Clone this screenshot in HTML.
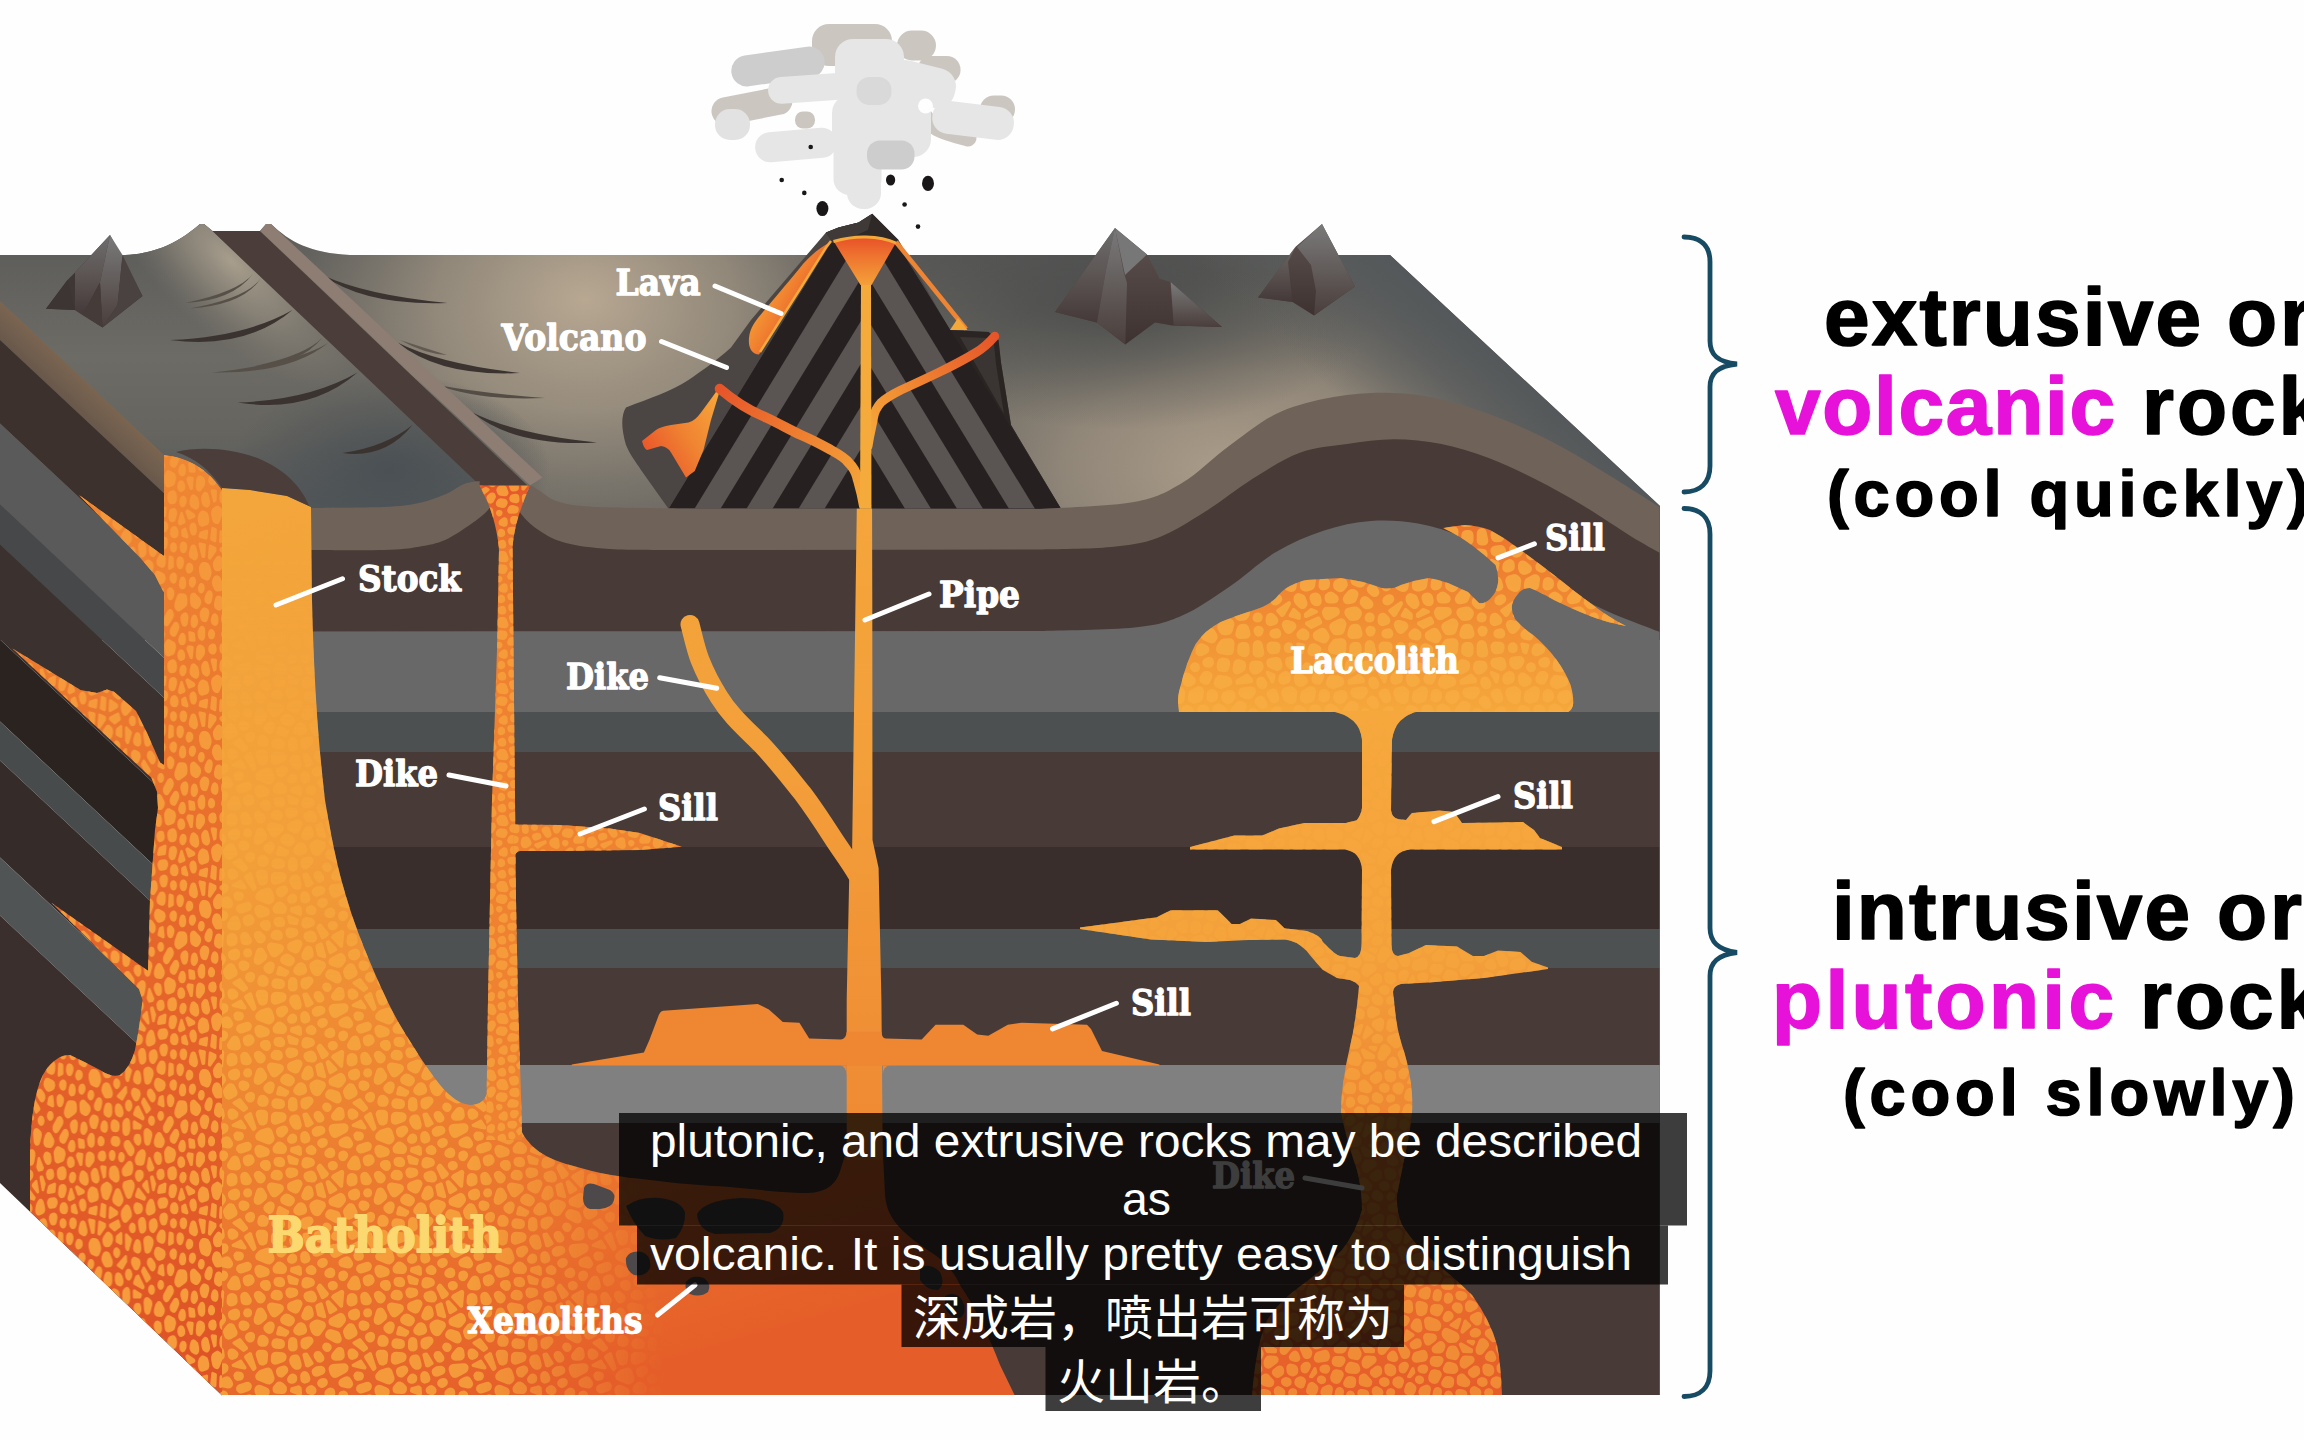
<!DOCTYPE html>
<html lang="en">
<head>
<meta charset="utf-8">
<title>Igneous rock structures</title>
<style>
html,body{margin:0;padding:0;background:#fefefe;}
body{width:2304px;height:1440px;overflow:hidden;position:relative;}
svg{position:absolute;left:0;top:0;display:block;}
.lab{font-family:"DejaVu Serif","Liberation Serif",serif;font-weight:bold;fill:#fff;font-size:34.5px;stroke:#fff;stroke-width:1.3px;stroke-linejoin:round;}
.big{font-family:"Liberation Sans",sans-serif;font-weight:bold;fill:#000;}
.sub{font-family:"Liberation Sans","Noto Sans CJK SC",sans-serif;fill:#fff;}
.ld{stroke:#fff;stroke-width:5;stroke-linecap:round;fill:none;}
</style>
</head>
<body>
<svg width="2304" height="1440" viewBox="0 0 2304 1440">
<defs>
<linearGradient id="gTopBase" x1="0" y1="254" x2="0" y2="520" gradientUnits="userSpaceOnUse">
<stop offset="0" stop-color="#595957"/><stop offset="0.55" stop-color="#6f6b64"/><stop offset="1" stop-color="#6a6761"/>
</linearGradient>
<radialGradient id="gHi1" cx="585" cy="300" r="330" gradientUnits="userSpaceOnUse" gradientTransform="translate(585 300) scale(1 0.75) translate(-585 -300)">
<stop offset="0" stop-color="#b8a892" stop-opacity="1"/><stop offset="0.45" stop-color="#a89b88" stop-opacity="0.7"/><stop offset="1" stop-color="#8a8478" stop-opacity="0"/>
</radialGradient>
<radialGradient id="gHi2" cx="1230" cy="470" r="330" gradientUnits="userSpaceOnUse" gradientTransform="translate(1230 470) scale(1 0.6) translate(-1230 -470)">
<stop offset="0" stop-color="#ac9d8a" stop-opacity="1"/><stop offset="0.5" stop-color="#a09382" stop-opacity="0.7"/><stop offset="1" stop-color="#8a8478" stop-opacity="0"/>
</radialGradient>
<radialGradient id="gHi3" cx="225" cy="275" r="120" gradientUnits="userSpaceOnUse">
<stop offset="0" stop-color="#a59b8a" stop-opacity="0.95"/><stop offset="0.5" stop-color="#968d7d" stop-opacity="0.55"/><stop offset="1" stop-color="#8a8478" stop-opacity="0"/>
</radialGradient>
<radialGradient id="gDk1" cx="390" cy="470" r="160" gradientUnits="userSpaceOnUse" gradientTransform="translate(390 470) scale(1 0.6) translate(-390 -470)">
<stop offset="0" stop-color="#4a5054" stop-opacity="1"/><stop offset="1" stop-color="#4a5054" stop-opacity="0"/>
</radialGradient>
<radialGradient id="gDk2" cx="1120" cy="300" r="260" gradientUnits="userSpaceOnUse" gradientTransform="translate(1120 300) scale(1 0.5) translate(-1120 -300)">
<stop offset="0" stop-color="#4c4e4d" stop-opacity="1"/><stop offset="1" stop-color="#4c4e4d" stop-opacity="0"/>
</radialGradient>
<linearGradient id="gRightEdge" x1="1525" y1="380" x2="1430" y2="482" gradientUnits="userSpaceOnUse">
<stop offset="0" stop-color="#54585a" stop-opacity="1"/><stop offset="0.35" stop-color="#585b5c" stop-opacity="0.8"/><stop offset="1" stop-color="#5f605e" stop-opacity="0"/>
</linearGradient>
<linearGradient id="gStrip" x1="0" y1="0" x2="1" y2="0">
<stop offset="0" stop-color="#7d6e65"/><stop offset="1" stop-color="#9a8a7f"/>
</linearGradient>
<linearGradient id="gMtn" x1="0" y1="0" x2="0" y2="1">
<stop offset="0" stop-color="#7a7a7a"/><stop offset="1" stop-color="#4a3e3b"/>
</linearGradient>
<linearGradient id="gMtnL" x1="0" y1="0" x2="0" y2="1">
<stop offset="0" stop-color="#6e6e6e"/><stop offset="0.55" stop-color="#5a5250"/><stop offset="1" stop-color="#45393a"/>
</linearGradient>
<linearGradient id="gMtnD" x1="0" y1="0" x2="0" y2="1">
<stop offset="0" stop-color="#5e5350"/><stop offset="1" stop-color="#3d3230"/>
</linearGradient>
<linearGradient id="gFunnel" x1="0" y1="238" x2="0" y2="290" gradientUnits="userSpaceOnUse">
<stop offset="0" stop-color="#e8522a"/><stop offset="0.35" stop-color="#ee742f"/><stop offset="1" stop-color="#f5a83a"/>
</linearGradient>
<linearGradient id="gLava1" x1="750" y1="300" x2="800" y2="330" gradientUnits="userSpaceOnUse">
<stop offset="0" stop-color="#f7a838"/><stop offset="0.5" stop-color="#f08030"/><stop offset="1" stop-color="#e8532a"/>
</linearGradient>
<linearGradient id="gLava2" x1="642" y1="450" x2="720" y2="400" gradientUnits="userSpaceOnUse">
<stop offset="0" stop-color="#e9552a"/><stop offset="0.5" stop-color="#f08432"/><stop offset="1" stop-color="#f7a53a"/>
</linearGradient>
<linearGradient id="gBrL" x1="720" y1="388" x2="861" y2="500" gradientUnits="userSpaceOnUse">
<stop offset="0" stop-color="#e6552a"/><stop offset="0.5" stop-color="#ee7e30"/><stop offset="1" stop-color="#f5a73a"/>
</linearGradient>
<linearGradient id="gBrR" x1="995" y1="336" x2="872" y2="437" gradientUnits="userSpaceOnUse">
<stop offset="0" stop-color="#e6552a"/><stop offset="0.5" stop-color="#ee7e30"/><stop offset="1" stop-color="#f5a73a"/>
</linearGradient>
<linearGradient id="gBath" x1="300" y1="500" x2="560" y2="1395" gradientUnits="userSpaceOnUse">
<stop offset="0" stop-color="#f3a63b"/><stop offset="0.35" stop-color="#f29f39"/><stop offset="0.58" stop-color="#ee8832"/><stop offset="0.8" stop-color="#ea722d"/><stop offset="1" stop-color="#e55e29"/>
</linearGradient>
<linearGradient id="gBathTex" x1="0" y1="560" x2="0" y2="1000" gradientUnits="userSpaceOnUse">
<stop offset="0" stop-color="#fff" stop-opacity="0.15"/><stop offset="1" stop-color="#fff" stop-opacity="1"/>
</linearGradient>
<linearGradient id="gBathTexH" x1="470" y1="0" x2="665" y2="0" gradientUnits="userSpaceOnUse">
<stop offset="0" stop-color="#fff" stop-opacity="1"/><stop offset="1" stop-color="#fff" stop-opacity="0"/>
</linearGradient>
<mask id="mBathTex" maskUnits="userSpaceOnUse" x="0" y="0" width="2304" height="1440">
<rect x="0" y="0" width="2304" height="1440" fill="url(#gBathTex)"/>
<rect x="470" y="1100" width="640" height="300" fill="#000"/>
<rect x="470" y="1100" width="640" height="300" fill="url(#gBathTexH)"/>
</mask>
<linearGradient id="gPipe" x1="0" y1="285" x2="0" y2="1200" gradientUnits="userSpaceOnUse">
<stop offset="0" stop-color="#f5aa3b"/><stop offset="0.5" stop-color="#f3a03a"/><stop offset="1" stop-color="#ee8632"/>
</linearGradient>
<linearGradient id="gLacc" x1="0" y1="520" x2="0" y2="712" gradientUnits="userSpaceOnUse">
<stop offset="0" stop-color="#ec732d"/><stop offset="0.5" stop-color="#f08c33"/><stop offset="1" stop-color="#f5a83b"/>
</linearGradient>
<linearGradient id="gTrunk" x1="0" y1="712" x2="0" y2="1395" gradientUnits="userSpaceOnUse">
<stop offset="0" stop-color="#f5a83b"/><stop offset="0.35" stop-color="#f3a03a"/><stop offset="0.6" stop-color="#ee8632"/><stop offset="1" stop-color="#e65c29"/>
</linearGradient>
<linearGradient id="gLeftShade" x1="0" y1="0" x2="222" y2="0" gradientUnits="userSpaceOnUse">
<stop offset="0" stop-color="#000" stop-opacity="0.0"/><stop offset="1" stop-color="#000" stop-opacity="0"/>
</linearGradient>
<linearGradient id="gLeftBath" x1="0" y1="450" x2="0" y2="1350" gradientUnits="userSpaceOnUse">
<stop offset="0" stop-color="#eb7c2d"/><stop offset="0.45" stop-color="#e76a2b"/><stop offset="1" stop-color="#df5426"/>
</linearGradient>
<clipPath id="cFront"><path d="M222,488 L250,490 L287,496 L311,507 L311,508 C323.2,507.8 366.0,507.8 384,507 C402.0,506.2 408.8,505.1 419,503 C429.2,500.9 437.5,497.8 445,494.6 C452.5,491.4 458.2,486.3 464,484 C469.8,481.7 477.0,481.5 479.6,481 L479.6,485.6 L530,485.6 L532,486 C533.3,486.8 535.7,488.4 540,491 C544.3,493.6 549.0,499.0 557.8,501.6 C566.5,504.2 572.1,505.7 592.5,506.8 C612.9,507.9 665.4,508.2 680,508.5 L1040,509 L1040,509 C1055.7,507.8 1110.3,506.3 1134,502 C1157.7,497.7 1166.2,492.3 1182,483 C1197.8,473.7 1213.3,457.5 1229,446 C1244.7,434.5 1260.3,421.8 1276,414 C1291.7,406.2 1307.2,402.5 1323,399 C1338.8,395.5 1355.2,393.7 1371,393 C1386.8,392.3 1402.3,392.8 1418,395 C1433.7,397.2 1449.3,401.3 1465,406 C1480.7,410.7 1496.2,416.3 1512,423 C1527.8,429.7 1544.2,437.5 1560,446 C1575.8,454.5 1590.4,463.8 1607,474 C1623.6,484.2 1650.8,501.5 1659.5,507 L1659.5,1395 L222,1395 Z"/></clipPath>
<clipPath id="cLeft"><path d="M0,301 L164,455 Q200,458 222,490 L222,1395.5 L0,1183 Z"/></clipPath>
<linearGradient id="gLB" x1="0" y1="301" x2="0" y2="340" gradientUnits="userSpaceOnUse"><stop offset="0" stop-color="#7b6551"/><stop offset="1" stop-color="#68584b"/></linearGradient>
<clipPath id="cVolc"><path d="M668.5,508.75 L831,242.5 L896,242.5 L1061,508.75 Z"/></clipPath>
<linearGradient id="gLBlock" x1="0" y1="240" x2="0" y2="500" gradientUnits="userSpaceOnUse">
<stop offset="0" stop-color="#5c5c5a"/><stop offset="0.45" stop-color="#6d6b65"/><stop offset="0.75" stop-color="#65645f"/><stop offset="1" stop-color="#54585a"/>
</linearGradient>
<radialGradient id="gLBhi" cx="232" cy="262" r="130" gradientUnits="userSpaceOnUse" gradientTransform="translate(232 262) rotate(43) scale(1.3 0.55) translate(-232 -262)">
<stop offset="0" stop-color="#a89e8d" stop-opacity="1"/><stop offset="0.5" stop-color="#958d7f" stop-opacity="0.6"/><stop offset="1" stop-color="#807a70" stop-opacity="0"/>
</radialGradient>
<linearGradient id="gFdike" x1="0" y1="485" x2="0" y2="560" gradientUnits="userSpaceOnUse">
<stop offset="0" stop-color="#e5552a"/><stop offset="1" stop-color="#ee8231"/>
</linearGradient>
<linearGradient id="gColSoft" x1="0" y1="450" x2="0" y2="900" gradientUnits="userSpaceOnUse">
<stop offset="0" stop-color="#f3923a" stop-opacity="0.5"/><stop offset="0.6" stop-color="#f3923a" stop-opacity="0.2"/><stop offset="1" stop-color="#f3923a" stop-opacity="0"/>
</linearGradient>
<pattern id="pCellB" width="130" height="130" patternUnits="userSpaceOnUse" patternTransform="matrix(0.85 0 0 1.3 0 0)"><path d="M-8.4,0.2 -10.5,1.7 -11.6,3.6 -11.6,5.8 -10.3,10.0 -9.3,11.6 -7.7,12.5 -5.8,13.1 -4.1,13.2 -2.4,12.5 -1.3,11.2 1.6,5.9 2.0,3.9 1.5,2.0 -0.0,0.6 -2.4,-0.6 -3.9,-1.1 -5.6,-0.8ZM-0.8,37.9 -2.4,37.4 -4.1,37.6 -5.5,38.4 -8.5,41.3 -9.6,43.3 -9.3,45.6 -8.8,47.0 -7.4,48.7 -5.4,49.4 -1.4,49.3 1.7,46.9 3.0,44.3 3.1,42.7 2.6,40.6 1.2,39.1ZM-1.0,64.9 0.9,64.4 2.4,62.9 2.8,60.9 2.3,59.0 -0.6,54.5 -1.9,53.2 -3.6,52.6 -5.5,52.5 -7.6,53.0 -9.2,54.5 -10.3,56.5 -10.7,58.7 -9.9,60.8 -7.8,63.5 -6.4,64.6 -4.7,65.0ZM-8.1,73.8 -8.2,75.8 -7.4,77.6 -5.7,78.7 -3.3,79.6 -1.7,79.8 0.1,79.2 1.6,77.7 2.1,75.6 2.0,71.8 1.4,69.9 -0.1,68.6 -2.0,68.1 -3.4,68.1 -5.7,68.8 -7.1,70.7ZM-10.3,140.0 -9.3,141.6 -7.7,142.5 -5.8,143.1 -4.1,143.2 -2.4,142.5 -1.3,141.2 1.6,135.9 2.0,133.9 1.5,132.0 -0.0,130.6 -2.4,129.4 -3.9,128.9 -5.6,129.2 -9.6,130.9 -10.5,131.7 -11.6,133.6 -11.6,135.8ZM1.9,-13.1 0.2,-12.5 -1.0,-11.3 -1.6,-9.6 -1.9,-6.7 -1.4,-4.4 0.2,-2.8 4.6,-0.5 7.2,-0.2 9.5,-1.2 10.6,-2.8 10.8,-4.8 10.0,-9.1 8.7,-11.4 6.1,-13.2 4.5,-13.4ZM30.2,-2.4 31.8,-1.1 33.9,-0.8 35.8,-1.7 37.8,-3.2 38.9,-4.7 39.2,-6.6 38.6,-8.4 37.2,-9.7 35.4,-10.2 32.9,-10.2 30.5,-9.5 29.1,-7.5 28.8,-5.1ZM47.8,-5.7 47.1,-5.3 46.6,-4.6 46.6,-3.7 49.0,5.5 49.4,6.2 50.8,6.6 51.9,5.7 53.8,0.6 50.7,-5.1 50.0,-5.8ZM56.8,-10.5 54.9,-9.2 54.0,-7.1 54.9,-4.1 56.1,-2.8 57.7,-2.1 61.1,-2.7 62.7,-3.7 63.7,-5.2 63.8,-7.0 62.8,-9.8 61.0,-11.0 58.8,-11.0ZM81.1,-4.0 81.4,-1.9 82.8,-0.3 84.8,0.3 87.5,-0.5 89.3,-2.8 89.7,-5.6 88.8,-7.4 87.2,-8.5 84.5,-8.6 82.3,-7.4 81.2,-5.1ZM99.4,-9.5 97.2,-9.9 95.2,-9.1 93.9,-7.2 93.1,-4.5 93.0,-2.6 93.8,-0.9 95.3,0.3 99.1,1.9 101.2,2.1 103.2,1.2 104.3,-0.6 104.4,-2.8 103.5,-6.0 102.8,-7.4ZM115.4,-9.2 114.4,-10.8 112.7,-11.6 110.9,-11.7 109.2,-10.8 108.0,-9.8 106.8,-8.0 106.8,-5.8 107.5,-3.0 108.5,-1.3 110.3,-0.3 112.3,0.3 114.4,0.3 116.2,-0.8 117.2,-2.7 117.0,-4.8ZM2.5,10.8 2.0,12.8 2.7,14.8 4.3,16.2 8.0,17.9 10.2,18.2 12.3,17.3 14.0,15.8 15.0,14.3 15.3,12.6 14.8,10.9 11.9,5.9 10.5,4.5 8.5,3.9 6.5,4.5 5.1,6.0ZM0.5,17.9 -0.9,17.9 -1.7,19.1 -2.3,26.2 -1.7,27.5 -0.2,27.8 7.9,24.8 8.7,24.3 9.0,22.8 8.8,22.0 8.1,21.4ZM-0.8,31.3 -1.5,31.8 -1.8,32.6 -1.7,33.4 -1.1,34.1 4.9,37.5 11.4,34.3 11.9,33.7 12.2,33.0 10.3,28.8 9.1,27.9ZM13.9,39.0 13.1,37.7 12.3,37.5 7.1,40.1 6.3,41.3 6.1,44.3 6.3,45.3 7.1,45.9 11.9,47.7 13.3,47.5 14.0,46.2ZM8.3,49.7 6.4,49.5 4.7,50.2 3.5,51.7 3.1,53.6 3.7,55.4 5.6,57.3 7.6,57.8 9.6,57.1 11.3,55.2 11.6,53.1 10.8,51.2ZM10.6,69.0 8.7,68.6 6.8,69.3 5.5,70.8 5.1,72.7 5.2,75.1 6.0,77.3 7.8,78.6 10.2,79.5 12.0,79.6 13.8,78.9 15.0,77.6 15.5,75.9 15.1,74.1 13.9,71.5 12.0,69.6ZM0.1,86.9 0.6,88.7 2.0,90.1 3.8,90.7 6.7,90.9 8.7,90.5 10.3,89.0 10.8,87.0 10.8,85.7 10.1,83.5 8.2,82.1 5.6,81.2 4.0,81.0 2.1,81.6 0.6,83.1 0.1,85.1ZM4.3,93.9 2.4,94.2 1.0,95.5 0.2,97.3 0.4,99.2 1.6,100.7 3.3,101.6 6.3,102.2 7.9,102.2 9.9,101.3 11.2,99.8 11.6,98.0 11.1,96.1 9.8,94.7 8.0,94.1ZM2.7,104.7 1.0,104.7 -0.6,105.6 -1.7,107.0 -1.9,108.8 -1.3,111.3 0.1,112.6 1.9,113.1 3.7,112.8 5.2,111.5 6.0,109.1 5.8,107.1 4.7,105.6ZM1.9,116.9 0.2,117.5 -1.0,118.7 -1.6,120.4 -1.9,123.3 -1.4,125.6 0.2,127.2 4.6,129.5 7.2,129.8 9.5,128.8 10.6,127.2 10.8,125.2 10.0,120.9 8.7,118.6 6.1,116.8 4.5,116.6ZM17.2,-1.6 15.5,-0.9 14.4,0.5 14.0,2.4 14.5,4.1 18.1,10.4 19.7,12.0 21.8,12.4 23.9,11.6 25.1,10.1 28.3,3.8 28.6,1.8 27.9,-0.2 25.6,-2.4 23.5,-2.7ZM13.7,28.7 15.2,30.2 17.3,30.8 19.4,30.2 23.5,27.4 24.8,26.0 25.3,24.2 24.9,22.4 22.9,18.5 21.2,16.9 18.9,16.4 16.8,17.4 13.4,20.4 12.5,21.7 12.1,24.3 12.5,26.2ZM29.7,33.4 28.9,31.7 27.3,30.7 25.5,30.4 23.8,31.0 22.1,32.6 21.6,34.5 22.1,36.3 23.8,38.1 25.6,38.7 27.4,38.5 29.0,37.5 29.8,35.8ZM19.4,38.8 18.6,38.6 17.8,38.8 17.2,39.3 17.0,40.2 17.2,49.6 18.3,51.6 19.1,52.1 20.8,52.5 21.9,51.6 25.4,43.7 24.7,42.5ZM17.1,55.6 7.7,62.5 7.5,63.3 7.8,64.0 13.0,66.6 14.0,66.7 14.9,66.2 19.7,60.5 19.3,56.0 18.7,55.5 17.9,55.4ZM17.9,72.8 19.3,74.4 21.3,75.1 23.3,74.6 25.3,72.5 25.8,70.2 25.0,68.1 24.3,67.2 22.4,65.9 20.2,65.9 18.3,67.1 17.1,69.4 17.4,71.6ZM14.0,89.9 14.6,92.0 16.2,93.4 18.3,93.8 19.5,93.6 21.0,93.1 22.2,92.0 23.3,89.1 23.1,83.6 22.5,81.6 21.0,80.2 19.0,79.8 17.0,80.5 15.6,81.5 14.4,82.9 13.9,84.7ZM18.9,96.9 17.0,97.6 15.7,99.3 15.5,101.4 16.4,103.3 20.8,108.3 23.2,109.6 25.5,109.3 27.7,107.1 28.3,105.4 28.2,103.6 27.2,102.1 22.9,97.9 21.4,96.9ZM9.0,109.8 9.2,111.6 10.2,113.2 11.8,114.1 13.6,114.2 15.3,113.4 16.7,111.5 16.9,109.5 16.0,107.6 14.0,106.2 11.8,106.2 10.0,107.4ZM26.2,115.4 25.2,113.8 23.6,112.9 21.7,112.8 20.0,113.6 14.7,117.9 13.5,119.5 13.3,121.6 14.2,123.8 15.8,124.9 17.8,125.1 23.0,124.3 24.9,123.4 26.1,121.5 26.8,119.3 26.7,116.9ZM33.9,3.8 33.1,3.4 32.2,3.6 31.5,4.2 29.1,9.1 29.0,10.0 29.4,10.8 30.1,11.3 39.4,13.6 40.3,13.6 41.0,13.1 41.9,11.7 41.8,10.9 41.4,10.3ZM31.8,14.9 29.6,15.0 27.8,16.3 27.0,18.4 27.4,20.5 28.2,22.1 29.4,23.4 31.0,24.2 32.7,24.1 35.4,23.4 37.1,22.4 38.1,20.6 38.1,18.6 37.1,16.8 35.3,15.8ZM33.5,36.0 34.6,38.0 36.6,39.0 38.8,38.7 39.8,38.3 41.7,36.7 42.3,34.3 41.8,29.8 40.3,27.1 38.6,26.2 36.7,26.2 35.2,26.6 33.5,27.6 32.5,29.3 32.4,31.3ZM26.9,48.3 26.6,50.5 27.5,52.5 29.4,53.7 31.4,54.2 33.3,54.3 35.0,53.4 36.1,51.7 36.3,49.8 35.7,46.3 34.9,44.6 33.3,43.4 31.4,43.1 29.5,43.8 28.3,45.3ZM29.0,56.8 27.1,56.8 25.4,57.7 24.3,59.3 24.1,61.2 24.9,63.0 27.2,65.9 28.6,67.0 30.4,67.4 32.1,66.9 33.5,65.7 34.8,63.8 35.5,62.1 35.3,60.3 34.3,58.7 32.7,57.8ZM26.9,75.9 26.6,76.8 26.9,77.6 27.6,78.2 37.7,82.0 39.2,81.8 39.9,80.6 40.1,79.8 39.8,79.1 33.4,70.4 32.1,70.3 30.1,71.1 29.3,71.8ZM28.4,81.8 26.9,82.0 26.2,83.3 26.4,87.6 26.6,88.4 27.2,88.9 35.1,88.8 35.9,88.5 36.8,86.7 36.9,85.9 36.6,85.2ZM30.8,92.1 28.7,92.8 27.4,94.6 27.2,96.8 28.3,98.8 29.8,100.2 31.4,101.2 33.3,101.3 35.0,100.4 36.1,98.9 36.4,97.0 36.2,95.5 35.5,93.7 34.0,92.4ZM29.3,110.2 28.7,111.9 28.9,113.7 30.4,115.9 32.6,116.6 36.4,116.7 38.1,116.4 39.5,115.3 40.3,113.8 41.6,108.8 41.5,106.7 40.4,105.0 38.6,104.0 36.5,104.1 33.8,105.1 31.8,106.6ZM30.2,127.6 31.8,128.9 33.9,129.2 35.8,128.3 37.8,126.8 38.9,125.3 39.2,123.4 38.6,121.6 37.2,120.3 35.4,119.8 32.9,119.8 30.5,120.5 29.1,122.5 28.8,124.9ZM44.0,-1.4 43.0,-2.5 41.5,-2.2 37.9,0.6 37.4,1.4 37.4,2.3 37.8,3.0 43.4,7.9 44.9,8.2 46.0,7.1 46.0,6.4ZM41.5,20.4 41.6,22.4 42.6,24.1 44.4,25.0 46.3,25.0 50.4,23.9 52.2,22.8 53.2,20.9 53.0,18.8 51.5,14.6 50.4,13.1 48.8,12.2 46.8,12.2 44.8,13.5 43.0,15.6 42.2,17.3ZM48.0,27.8 46.4,28.6 45.4,30.1 45.1,31.9 45.4,34.9 46.2,36.8 47.8,38.1 50.7,38.6 52.8,37.4 54.7,35.2 55.7,33.4 55.6,31.4 55.0,29.7 54.0,28.1 52.2,27.1 50.3,27.1ZM39.7,51.4 40.7,53.4 42.6,54.5 45.6,54.1 47.8,52.3 50.4,47.6 50.8,46.1 50.6,44.2 49.7,42.7 48.4,41.8 45.7,40.6 44.2,40.3 41.1,41.2 39.6,42.2 38.8,43.7 38.7,45.4ZM45.5,57.5 43.9,58.5 42.9,60.2 42.9,62.1 43.9,63.8 46.6,66.8 48.3,67.9 50.3,68.0 52.1,67.0 53.3,65.0 53.3,62.9 52.3,61.0 49.4,58.3 47.6,57.4ZM40.4,64.6 39.6,64.2 38.7,64.2 37.9,64.8 36.3,67.1 36.0,68.0 36.3,68.9 41.5,76.2 42.2,76.7 43.0,76.8 46.9,74.3 47.4,73.6 47.5,72.8 47.1,72.0ZM45.9,78.8 44.6,80.3 44.2,82.2 44.8,84.1 46.6,85.6 48.6,86.1 50.6,85.5 52.0,84.0 52.4,81.9 51.5,79.7 49.9,78.4 47.9,78.0ZM44.7,88.1 42.7,87.7 40.6,88.3 39.3,89.9 38.9,92.0 39.6,98.0 40.4,99.9 42.0,101.2 44.0,101.4 45.9,100.7 47.1,99.1 49.0,94.5 49.3,92.6 48.7,90.8 47.3,89.6ZM47.0,110.6 46.4,110.0 45.5,109.9 44.7,110.3 44.2,111.1 42.6,117.4 42.9,118.7 45.1,121.4 49.6,120.8 50.5,120.3 51.7,118.5 51.4,117.6ZM47.8,124.3 47.1,124.7 46.6,125.4 46.6,126.3 49.0,135.5 49.4,136.2 50.8,136.6 51.9,135.7 53.8,130.6 50.7,124.9 50.0,124.2ZM55.0,6.3 55.2,7.8 56.6,8.5 64.5,7.6 65.3,6.5 66.0,0.6 64.8,-0.4 64.1,-0.4 57.6,1.6 56.6,2.5ZM58.9,11.4 57.2,12.0 55.9,13.2 55.3,14.9 55.6,16.6 56.8,18.9 58.2,19.8 59.9,19.9 64.1,19.5 66.1,18.7 67.7,16.2 67.9,14.3 67.1,12.5 65.6,11.3 63.7,11.0ZM61.1,23.0 59.0,23.9 57.7,25.8 57.7,28.0 58.4,30.0 59.7,31.9 61.8,32.7 64.5,32.5 65.9,31.5 66.8,30.0 67.5,27.7 67.6,25.8 66.8,24.1 65.2,23.0 63.4,22.7ZM55.1,39.5 54.2,41.2 54.2,43.1 55.1,44.8 56.8,45.8 59.8,46.8 62.1,46.8 64.0,45.5 64.9,43.4 65.1,40.0 64.8,38.0 63.5,36.5 61.6,35.8 58.8,36.0 57.3,37.0ZM51.5,52.0 51.1,54.5 52.2,56.7 54.6,59.0 56.3,59.9 58.3,59.9 61.9,58.9 64.0,57.5 65.1,54.8 64.3,52.3 62.3,50.9 56.7,49.1 54.9,49.0 53.3,49.6ZM57.8,63.3 56.8,64.3 55.5,68.5 55.5,69.3 55.9,70.0 61.9,71.9 63.3,71.5 63.8,70.1 62.8,63.7 62.5,62.9 61.7,62.4 60.9,62.4ZM60.1,74.6 58.2,74.6 56.6,75.4 55.5,77.0 55.2,78.8 55.9,80.6 57.8,82.1 60.1,82.2 62.1,81.0 63.0,79.2 62.9,77.2 61.9,75.6ZM60.0,91.9 57.9,90.7 55.5,90.9 52.9,93.2 51.2,97.2 51.0,99.5 52.2,101.6 54.3,102.6 58.5,103.1 60.4,102.9 62.0,101.8 63.1,100.6 63.9,98.9 63.9,97.1 63.0,95.5ZM55.3,105.8 53.1,106.2 51.5,107.6 50.8,109.7 51.4,111.8 53.1,114.5 55.0,116.0 57.5,116.1 59.4,115.1 60.4,113.6 60.6,111.7 60.3,109.4 59.2,107.2 56.9,106.1ZM56.8,119.5 54.9,120.8 54.0,122.9 54.9,125.9 56.1,127.2 57.7,127.9 61.1,127.3 62.7,126.3 63.7,124.8 63.8,123.0 62.8,120.2 61.0,119.0 58.8,119.0ZM69.4,10.4 71.0,11.6 73.0,11.8 75.7,10.9 76.9,9.3 78.2,6.2 78.4,4.3 77.8,2.5 76.3,1.2 74.4,0.8 72.5,0.9 70.8,1.4 69.4,2.5 68.8,4.2 68.4,7.1 68.4,8.6ZM70.1,18.6 70.0,20.9 71.3,22.9 73.4,23.8 75.9,24.1 78.1,23.6 79.7,22.0 80.1,19.8 80.0,18.6 78.7,16.1 76.6,14.8 73.6,14.9 71.7,15.7 70.5,17.4ZM70.1,29.9 70.1,31.9 71.0,33.7 72.8,34.8 75.1,35.0 76.8,34.3 77.9,32.9 78.3,31.0 77.9,29.2 76.6,27.8 74.8,27.1 72.5,27.3 71.0,28.3ZM67.7,46.8 68.3,48.1 69.0,48.4 73.6,47.0 74.4,46.4 74.6,45.5 74.5,39.6 74.2,38.7 73.4,38.1 70.3,37.3 69.4,37.3 68.7,37.8 68.4,38.7ZM72.0,50.9 70.2,52.2 69.4,54.2 69.8,56.3 71.2,57.9 72.2,58.5 73.9,59.1 75.7,58.8 77.2,57.8 78.0,56.2 78.3,53.1 77.2,51.3 75.3,50.3 73.2,50.4ZM66.7,68.5 67.5,70.3 69.1,71.5 71.0,71.8 72.8,71.1 74.1,69.6 74.9,68.0 75.3,66.1 74.8,64.3 72.2,62.2 70.1,61.6 68.0,62.3 66.6,63.9 66.4,66.1ZM62.6,85.1 61.8,86.8 61.8,88.6 62.6,90.2 64.7,91.7 66.8,91.8 68.6,90.7 73.6,85.6 74.5,83.9 74.5,81.9 73.0,79.6 71.2,78.5 69.0,78.6 67.2,79.7ZM70.7,93.1 69.7,94.8 69.7,96.7 70.6,98.5 73.4,99.9 75.9,99.8 77.8,98.3 80.3,94.7 81.0,92.8 80.5,90.6 79.3,89.1 77.6,88.3 75.7,88.5 74.1,89.5ZM63.8,111.8 64.6,113.7 66.4,114.9 68.6,115.0 73.2,113.9 74.9,113.0 75.9,111.5 76.9,109.1 77.2,107.6 76.8,106.0 75.5,104.1 74.1,103.4 69.2,101.8 67.0,101.8 65.1,103.0 63.2,105.7 63.1,107.3ZM67.2,124.5 67.9,126.2 69.4,127.4 71.2,127.8 74.4,127.7 76.2,127.2 77.5,125.9 78.1,124.2 78.3,122.3 77.7,119.7 77.1,118.8 75.3,117.3 72.9,117.2 69.8,117.9 68.1,118.8 67.1,120.4 66.9,122.3ZM85.0,4.5 84.4,3.8 83.6,3.6 82.7,3.9 82.2,4.6 79.4,11.3 79.4,12.2 79.9,13.1 81.7,14.3 87.2,12.7 87.9,12.1 88.3,11.3 88.1,10.5ZM91.6,22.1 89.0,16.1 87.5,15.8 83.6,17.4 83.2,18.6 83.5,21.7 83.9,22.5 84.7,23.0 89.9,24.2 90.7,24.1 91.4,23.7 91.7,22.9ZM86.2,26.5 83.9,26.7 82.1,28.1 81.4,30.3 81.4,31.5 82.1,33.7 83.9,35.2 86.7,35.6 88.5,34.8 89.7,33.2 90.1,32.0 90.3,29.8 89.3,27.9 87.4,26.8ZM84.1,38.5 81.1,37.9 79.3,38.6 78.1,40.0 77.7,41.9 77.7,44.0 78.5,46.1 80.6,47.6 82.5,47.8 84.3,47.1 85.5,45.5 86.3,43.8 86.6,41.7 85.8,39.8ZM80.6,58.4 80.7,60.7 82.1,62.6 84.2,63.4 87.1,62.9 88.6,61.3 89.1,59.2 88.9,57.0 88.1,55.0 86.4,53.7 84.3,53.5 82.3,54.5 81.2,56.3ZM77.0,79.3 79.1,80.4 81.5,80.1 88.3,76.9 90.1,75.4 90.6,73.1 90.4,70.2 89.8,68.4 88.4,67.1 86.7,66.6 81.8,66.4 79.6,66.9 78.1,68.6 75.5,73.9 75.1,76.3 76.2,78.4ZM84.4,82.2 82.9,83.5 82.2,85.4 82.5,87.4 83.6,89.8 84.7,91.3 86.4,92.1 88.5,91.9 90.2,90.8 91.1,89.0 91.7,85.6 91.5,83.5 90.2,81.8 88.3,81.0 86.2,81.4ZM80.4,100.2 79.7,102.1 80.1,104.1 81.4,105.6 83.2,106.3 84.6,106.4 86.8,105.9 88.4,104.3 88.8,102.1 88.6,100.2 88.0,98.5 86.6,97.2 84.7,96.8 82.9,97.2 81.5,98.5ZM83.1,109.4 80.8,110.0 79.2,111.8 78.6,114.5 79.5,116.7 81.2,118.2 83.4,118.4 86.5,117.5 87.7,116.1 88.0,114.2 87.5,112.4 85.6,110.0ZM81.1,126.0 81.4,128.1 82.8,129.7 84.8,130.3 87.5,129.5 89.3,127.2 89.7,124.4 88.8,122.6 87.2,121.5 84.5,121.4 82.3,122.6 81.2,124.9ZM90.3,1.7 88.5,2.7 88.2,3.5 88.4,4.3 91.3,9.5 92.6,9.8 98.7,8.2 99.8,7.1 99.8,6.3 98.9,5.1 90.9,1.8ZM95.7,12.2 93.9,13.3 92.9,15.2 93.1,17.4 94.1,19.7 95.1,21.2 96.8,22.0 98.7,22.0 100.3,21.1 101.3,19.5 101.6,18.8 101.6,16.2 101.0,14.5 99.9,12.9 98.2,12.0ZM92.4,34.8 92.2,36.9 93.2,38.8 95.0,39.9 98.1,40.9 100.2,40.9 102.0,39.8 103.0,37.9 102.8,35.8 101.1,31.2 100.0,29.7 98.4,28.8 96.5,28.8 94.9,29.6 93.8,31.2ZM88.8,45.8 88.4,47.6 89.0,49.4 90.3,50.7 92.0,51.3 95.1,50.4 96.6,49.3 97.4,47.6 97.3,45.7 96.3,44.1 93.8,42.9 91.9,42.8 90.3,43.5ZM92.1,58.6 93.0,60.7 94.9,62.0 97.1,62.1 99.0,60.8 99.8,59.9 100.7,58.0 100.5,55.9 99.3,54.3 97.3,53.5 95.3,53.8 94.4,54.1 92.6,55.7ZM99.8,66.4 98.3,65.8 96.6,65.9 94.8,66.8 93.7,68.2 93.5,70.0 93.8,74.0 94.7,76.1 96.6,77.4 99.9,78.4 101.9,78.4 103.6,77.6 105.3,76.1 106.4,74.6 106.7,72.9 106.1,71.2 104.9,69.9ZM102.3,85.2 101.2,83.5 99.3,82.7 97.3,82.8 95.7,84.0 94.8,85.8 94.3,88.4 94.5,90.4 95.6,92.1 97.5,93.0 99.7,92.9 101.4,91.6 102.3,90.6 103.1,88.7 102.9,86.8ZM98.1,96.3 92.5,95.3 91.5,96.3 92.2,102.7 93.4,103.4 98.5,103.7 99.4,103.4 100.0,102.7 100.1,101.8 99.3,97.5 98.9,96.7ZM93.4,116.3 94.1,116.9 95.7,116.9 96.6,116.5 97.0,115.6 97.9,108.4 97.8,107.6 97.2,106.9 91.9,106.4 90.8,106.8 89.4,108.2 89.5,109.6ZM99.4,120.5 97.2,120.1 95.2,120.9 93.9,122.8 93.1,125.5 93.0,127.4 93.8,129.1 95.3,130.3 99.1,131.9 101.2,132.1 103.2,131.2 104.3,129.4 104.4,127.2 103.5,124.0 102.8,122.6ZM115.2,6.2 114.2,4.5 112.6,3.6 109.4,2.7 107.4,2.7 105.7,3.6 104.2,4.9 103.2,6.7 102.8,7.9 102.8,10.4 103.6,12.6 104.6,14.1 106.2,15.0 108.0,15.1 113.2,14.1 115.1,13.2 116.2,11.3 116.2,9.1ZM105.0,23.9 113.1,25.1 113.8,24.6 114.1,23.9 114.9,19.1 114.5,17.7 113.1,17.3 105.1,19.0 103.8,21.9 103.8,22.8 104.2,23.5ZM111.2,28.1 104.6,27.2 104.0,27.7 103.6,28.4 103.7,29.2 107.1,38.3 107.7,39.1 108.7,39.3 110.7,39.0 111.5,37.9 112.3,29.1ZM113.3,42.6 111.6,42.3 108.4,42.4 106.1,43.4 104.3,46.2 104.1,47.8 104.3,49.8 105.6,52.9 106.6,54.4 108.1,55.2 112.7,56.5 114.4,56.6 116.0,55.9 117.2,54.6 118.5,52.3 119.0,50.6 118.7,48.9 117.2,45.4 115.1,43.3ZM108.1,58.5 105.9,58.5 104.1,59.7 102.8,62.1 103.1,64.2 104.5,65.8 106.5,66.5 108.4,66.2 109.9,64.9 110.9,62.8 110.8,60.9 109.8,59.4ZM111.2,68.5 110.5,70.3 110.7,72.2 111.8,73.7 114.5,74.8 116.4,74.8 118.1,73.9 119.1,72.3 120.2,69.1 120.3,66.9 119.2,65.0 117.2,64.0 115.0,64.2 113.3,65.6ZM108.6,88.3 112.0,88.6 113.6,87.8 114.6,86.4 116.0,83.1 116.3,80.9 115.3,78.9 113.4,77.8 111.2,77.3 109.4,77.3 107.7,78.1 106.2,79.4 105.0,81.4 105.1,83.7 105.9,85.8 106.9,87.4ZM102.9,99.5 103.9,101.5 106.7,102.8 109.0,102.7 110.9,101.2 111.5,99.0 111.5,95.2 111.1,93.5 110.0,92.2 108.4,91.4 106.2,91.5 104.5,92.8 102.5,95.7 102.5,97.4ZM100.4,113.7 100.6,115.5 101.6,117.1 103.3,117.9 105.1,118.0 106.8,117.1 110.1,114.3 111.1,112.8 111.3,109.9 110.4,107.7 108.4,106.5 105.8,105.8 103.6,105.9 101.8,107.1 100.9,109.1ZM115.4,120.8 114.4,119.2 112.7,118.4 110.9,118.3 109.2,119.2 108.0,120.2 106.8,122.0 106.8,124.2 107.5,127.0 108.5,128.7 110.3,129.7 112.3,130.3 114.4,130.3 116.2,129.2 117.2,127.3 117.0,125.2ZM124.2,13.1 125.9,13.2 127.6,12.5 128.7,11.2 131.6,5.9 132.0,3.9 131.5,2.0 130.0,0.6 127.6,-0.6 126.1,-1.1 124.4,-0.8 120.4,0.9 119.5,1.7 118.4,3.6 118.4,5.8 119.7,10.0 120.7,11.6 122.3,12.5ZM124.2,16.3 119.7,15.2 118.9,15.7 118.6,16.5 117.3,24.8 118.3,25.8 122.6,27.1 123.5,27.1 124.3,26.6 124.6,25.7 125.2,17.3ZM114.6,38.5 114.8,39.5 115.5,40.1 117.3,40.6 118.1,40.2 124.4,34.2 124.8,33.1 124.5,31.2 123.7,30.7 117.6,28.8 116.7,28.8 115.9,29.3 115.6,30.1ZM121.5,41.3 120.4,43.3 120.7,45.6 121.2,47.0 122.6,48.7 124.6,49.4 128.6,49.3 129.9,48.5 131.7,46.9 133.0,44.3 133.1,42.7 132.6,40.6 131.2,39.1 129.2,37.9 127.6,37.4 125.9,37.6 124.5,38.4ZM129.0,64.9 130.9,64.4 132.4,62.9 132.8,60.9 132.3,59.0 129.4,54.5 128.1,53.2 126.4,52.6 124.5,52.5 122.4,53.0 120.8,54.5 119.7,56.5 119.3,58.7 120.1,60.8 122.2,63.5 123.6,64.6 125.3,65.0ZM121.9,73.8 121.8,75.8 122.6,77.6 124.3,78.7 126.7,79.6 128.3,79.8 130.1,79.2 131.6,77.7 132.1,75.6 132.0,71.8 131.4,69.9 129.9,68.6 128.0,68.1 126.6,68.1 124.3,68.8 122.9,70.7ZM120.4,90.8 123.5,91.6 125.3,91.0 126.6,89.5 127.0,87.7 127.0,85.7 126.3,83.5 124.0,81.9 122.0,81.7 120.2,82.5 119.1,84.0 118.3,85.7 118.0,87.7 118.8,89.6ZM120.1,94.1 118.2,93.8 116.4,94.4 115.1,95.9 114.6,98.2 115.4,100.4 117.2,101.8 120.2,101.7 121.9,100.8 122.9,99.2 123.1,97.3 122.3,95.5ZM117.9,105.6 116.0,106.6 115.0,108.6 115.2,110.7 116.5,112.4 118.5,113.2 120.7,113.4 122.9,113.0 124.5,111.4 125.0,109.2 124.1,106.4 122.3,105.1 120.1,105.0ZM124.8,124.8 125.3,117.7 124.8,117.1 124.1,116.8 119.5,116.4 118.1,117.0 117.9,118.5 121.0,126.3 121.7,126.6 122.5,126.6 124.5,125.6ZM17.2,128.4 15.5,129.1 14.4,130.5 14.0,132.4 14.5,134.1 18.1,140.4 19.7,142.0 21.8,142.4 23.9,141.6 25.1,140.1 28.3,133.8 28.6,131.8 27.9,129.8 25.6,127.6 23.5,127.3ZM37.8,133.0 44.1,138.3 45.6,137.8 46.0,136.4 44.0,128.6 43.6,127.9 42.2,127.5 37.9,130.6 37.4,131.4 37.4,132.3ZM66.0,131.4 65.5,130.0 64.1,129.6 57.0,131.9 55.0,136.3 55.2,137.8 56.6,138.5 64.5,137.6 65.3,136.5ZM72.5,130.9 70.8,131.4 69.4,132.5 68.8,134.2 68.4,137.1 68.4,138.6 69.4,140.4 71.0,141.6 73.0,141.8 75.7,140.9 76.9,139.3 78.2,136.2 78.4,134.3 77.8,132.5 76.3,131.2 74.4,130.8ZM90.3,131.7 88.5,132.7 88.2,133.5 88.4,134.3 91.3,139.5 92.6,139.8 98.7,138.2 99.8,137.1 99.8,136.3 98.9,135.1 90.9,131.8ZM124.2,143.1 125.9,143.2 127.6,142.5 128.7,141.2 131.6,135.9 132.0,133.9 131.5,132.0 130.0,130.6 127.6,129.4 126.1,128.9 124.4,129.2 120.4,130.9 119.5,131.7 118.4,133.6 118.4,135.8 119.7,140.0 120.7,141.6 122.3,142.5ZM132.5,10.8 132.0,12.8 132.7,14.8 134.3,16.2 138.0,17.9 140.2,18.2 142.3,17.3 144.0,15.8 145.0,14.3 145.3,12.6 144.8,10.9 141.9,5.9 140.5,4.5 138.5,3.9 136.5,4.5 135.1,6.0ZM130.5,17.9 129.1,17.9 128.3,19.1 127.7,26.2 128.3,27.5 129.8,27.8 137.9,24.8 138.7,24.3 139.0,22.8 138.8,22.0 138.1,21.4ZM129.2,31.3 128.5,31.8 128.2,32.6 128.3,33.4 128.9,34.1 134.9,37.5 141.4,34.3 141.9,33.7 142.2,33.0 140.3,28.8 139.1,27.9ZM138.3,49.7 136.4,49.5 134.7,50.2 133.5,51.7 133.1,53.6 133.7,55.4 135.6,57.3 137.6,57.8 139.6,57.1 141.3,55.2 141.6,53.1 140.8,51.2ZM130.1,86.9 130.6,88.7 132.0,90.1 133.8,90.7 136.7,90.9 138.7,90.5 140.3,89.0 140.8,87.0 140.8,85.7 140.1,83.5 138.2,82.1 135.6,81.2 134.0,81.0 132.1,81.6 130.6,83.1 130.1,85.1ZM134.3,93.9 132.4,94.2 131.0,95.5 130.2,97.3 130.4,99.2 131.6,100.7 133.3,101.6 136.3,102.2 137.9,102.2 139.9,101.3 141.2,99.8 141.6,98.0 141.1,96.1 139.8,94.7 138.0,94.1ZM132.7,104.7 131.0,104.7 129.4,105.6 128.3,107.0 128.1,108.8 128.7,111.3 130.1,112.6 131.9,113.1 133.7,112.8 135.2,111.5 136.0,109.1 135.8,107.1 134.7,105.6ZM138.7,118.6 136.1,116.8 134.5,116.6 131.9,116.9 130.2,117.5 129.0,118.7 128.4,120.4 128.1,123.3 128.6,125.6 130.2,127.2 134.6,129.5 137.2,129.8 139.5,128.8 140.6,127.2 140.8,125.2 140.0,120.9Z" fill="#f69c3c" fill-opacity="1"/></pattern>
<pattern id="pCellF" width="120" height="120" patternUnits="userSpaceOnUse"><path d="M-15.6,16.7 -14.1,18.8 -11.7,19.7 -9.2,19.2 -4.7,16.8 -3.1,15.3 -2.3,13.2 -2.7,11.0 -5.0,5.9 -6.2,4.3 -8.2,3.3 -10.8,3.3 -12.9,4.8 -16.1,8.8 -17.0,10.9 -16.8,13.0ZM2.6,31.5 3.7,31.9 4.7,31.6 7.3,29.7 7.9,29.0 8.1,28.0 7.7,27.1 1.2,18.8 0.6,18.2 -1.0,18.3 -7.4,21.9 -7.6,22.7 -7.5,23.6 -6.9,24.3ZM-5.3,29.3 -7.2,28.4 -9.3,28.6 -11.2,29.6 -12.3,31.4 -12.5,33.5 -12.1,36.0 -11.3,38.0 -9.7,39.4 -7.6,39.9 -5.5,39.3 -3.8,38.4 -2.2,36.9 -1.5,34.8 -1.8,32.6 -3.2,30.9ZM-1.2,51.4 -3.8,51.6 -5.8,53.2 -6.7,55.6 -5.6,58.9 -4.2,60.3 -2.3,61.0 0.9,60.4 2.9,59.2 3.9,57.1 3.8,54.8 2.6,52.8 0.5,51.8ZM-12.3,83.0 -13.0,85.1 -12.6,87.3 -11.2,89.0 -9.1,89.9 -4.1,90.6 -2.0,90.3 -0.2,89.1 0.8,87.2 0.8,85.0 -0.7,78.9 -2.0,76.7 -4.3,75.6 -6.9,75.9 -8.8,77.6ZM0.1,113.1 -0.4,111.0 -1.8,109.4 -3.8,108.6 -5.9,108.8 -9.2,110.0 -11.2,111.4 -12.1,113.5 -11.9,115.8 -11.3,117.4 -10.2,119.1 -8.3,120.1 -5.1,120.6 -1.9,118.9 -0.5,117.3 0.1,115.3ZM3.1,-7.0 3.6,-5.0 4.9,-3.3 6.9,-2.5 9.1,-2.7 10.9,-3.8 11.9,-5.7 12.1,-8.2 11.3,-10.1 9.6,-11.4 7.4,-11.8 5.3,-11.2 3.7,-9.6ZM14.1,2.7 16.0,4.6 18.6,5.1 21.0,4.0 25.8,-0.1 26.9,-1.7 27.3,-3.7 26.8,-5.6 24.4,-10.1 23.0,-11.7 21.1,-12.5 19.0,-12.3 17.2,-11.2 16.1,-9.3 13.6,-0.8ZM61.6,-6.1 61.2,-3.8 62.0,-1.6 64.4,0.2 66.5,0.6 68.6,0.0 71.6,-1.7 73.5,-3.8 73.8,-6.5 72.8,-10.9 71.8,-12.9 70.0,-14.2 67.8,-14.4 65.8,-13.6 64.3,-11.9ZM82.7,-16.4 82.2,-17.3 81.2,-17.7 80.1,-17.5 76.2,-15.4 75.5,-14.5 75.3,-13.4 77.2,-4.8 77.7,-4.0 78.5,-3.5 84.0,-1.8 84.9,-1.8 85.8,-2.3 86.2,-3.1 86.2,-4.0ZM110.8,-10.0 108.8,-8.6 107.9,-6.5 108.1,-4.2 108.7,-2.6 109.8,-0.9 111.7,0.1 114.9,0.6 118.1,-1.1 119.5,-2.7 120.1,-4.7 120.1,-6.9 119.6,-9.0 118.2,-10.6 116.2,-11.4 114.1,-11.2ZM4.0,0.6 1.5,0.6 -0.6,2.0 -1.6,4.3 -1.3,6.8 -0.6,8.4 1.0,10.3 3.4,11.0 5.9,10.4 7.5,9.4 9.2,7.5 9.6,4.9 8.5,2.6 6.3,1.2ZM7.0,13.2 5.3,15.0 4.9,17.5 5.8,19.8 6.7,20.9 8.8,22.4 11.3,22.6 13.5,21.3 14.7,19.1 15.1,17.1 14.9,14.6 13.3,12.5 10.8,11.7 8.3,12.4ZM5.1,35.0 4.3,36.1 4.0,37.0 4.3,37.9 12.0,50.3 13.3,51.2 14.1,51.0 16.1,49.2 16.5,48.3 16.5,47.4 11.8,33.1 11.4,32.4 9.8,31.9ZM-0.0,39.8 -8.1,44.3 -8.4,45.1 -8.2,46.0 -7.7,46.7 -6.9,47.1 4.4,49.6 5.4,49.5 6.2,48.8 6.5,47.8 6.3,46.8 1.7,39.8 0.8,39.6ZM-1.7,72.8 0.4,73.6 2.6,73.3 9.0,70.9 10.7,69.7 11.8,67.3 11.8,64.9 10.5,62.9 8.4,61.8 6.1,61.9 -0.9,64.2 -2.7,65.4 -3.9,67.6 -3.8,70.2ZM5.6,75.4 3.8,76.6 2.8,78.5 2.8,80.7 3.4,83.0 4.4,84.9 6.1,86.1 8.1,86.4 10.1,85.8 12.5,84.4 14.3,82.3 14.7,80.3 14.3,78.4 13.5,76.8 12.1,75.1 10.0,74.3 7.8,74.5ZM8.5,93.8 6.8,92.2 4.5,91.7 2.2,92.4 0.6,94.2 0.2,96.6 0.7,101.2 1.4,103.3 3.1,104.8 5.3,105.3 7.6,105.2 9.8,104.5 11.4,102.8 11.9,100.6 11.3,98.4ZM3.1,113.0 3.6,115.0 4.9,116.7 6.9,117.5 9.1,117.3 10.9,116.2 11.9,114.3 12.1,111.8 11.3,109.9 9.6,108.6 7.4,108.2 5.3,108.8 3.7,110.4ZM24.8,4.8 23.4,7.0 23.5,9.6 25.0,11.7 26.6,13.0 28.6,13.9 30.8,13.7 32.7,12.5 33.7,10.6 34.7,7.0 34.7,4.7 33.6,2.7 31.7,1.5 29.4,1.4 27.4,2.4ZM17.3,21.3 17.5,23.8 19.1,25.9 21.5,26.7 23.8,26.8 25.9,26.4 27.5,25.1 28.4,23.2 28.7,21.6 28.5,19.1 27.1,17.1 25.1,15.6 23.0,14.7 20.8,14.9 18.9,16.2 17.9,18.2ZM20.2,29.7 18.1,30.1 16.4,31.4 15.6,33.4 15.8,35.6 18.1,42.6 19.3,44.6 21.4,45.6 23.7,45.5 26.8,43.7 27.7,41.2 28.1,34.6 27.6,32.3 26.0,30.5 23.8,29.8ZM16.3,53.4 15.3,55.3 15.3,57.4 16.2,59.4 18.0,60.6 27.1,64.3 29.9,64.4 32.2,63.0 33.6,61.4 34.6,59.3 34.4,57.0 32.2,50.6 30.9,48.7 28.9,47.6 26.6,47.7 20.5,49.7 18.5,51.0ZM29.7,70.8 28.7,68.7 26.9,67.4 20.8,65.0 18.3,64.7 16.0,65.9 14.7,68.0 14.4,69.4 14.7,72.5 16.1,75.3 17.4,76.9 19.2,77.7 21.2,77.7 26.3,76.5 28.3,75.5 29.6,73.6ZM23.2,80.3 21.1,81.5 19.9,83.6 20.0,86.1 21.3,88.1 23.6,90.0 25.8,91.0 28.3,90.7 30.3,88.8 31.0,85.5 30.6,83.4 29.6,81.3 27.6,80.0 25.2,79.9ZM21.1,91.8 18.8,90.8 16.3,91.2 14.4,92.8 13.7,95.2 14.3,97.6 16.6,101.4 18.1,102.9 20.2,103.6 22.3,103.2 24.0,101.9 24.9,100.8 25.8,98.7 25.6,96.4 24.3,94.5ZM14.1,122.7 16.0,124.6 18.6,125.1 21.0,124.0 25.8,119.9 26.9,118.3 27.3,116.3 26.8,114.4 24.4,109.9 23.0,108.3 21.1,107.5 19.0,107.7 17.2,108.8 16.1,110.7 13.6,119.2ZM48.9,13.7 49.3,11.7 49.0,10.8 48.3,10.2 40.3,6.1 39.2,5.9 38.3,6.4 37.7,7.3 36.2,13.1 36.2,14.1 36.7,14.9 37.6,15.4 45.1,16.7 46.0,16.7ZM31.4,23.3 31.6,25.8 33.1,27.8 35.5,28.7 40.1,29.1 42.5,28.6 44.3,27.0 45.0,24.7 44.6,21.6 43.3,20.0 41.3,19.1 36.9,18.3 34.7,18.5 32.7,19.8 31.7,21.8ZM30.8,40.1 31.2,42.2 32.6,43.9 34.6,44.8 36.8,44.5 43.6,42.0 45.4,40.7 46.6,37.7 46.4,35.2 44.9,33.2 42.6,32.3 35.9,31.7 33.5,32.2 31.7,33.7 31.0,36.0ZM36.7,54.6 38.0,56.5 40.1,57.6 42.4,57.4 44.4,56.1 47.3,52.9 48.3,50.8 48.1,48.4 46.8,46.5 44.7,45.5 42.3,45.7 38.8,47.0 36.9,48.3 35.9,50.4 36.1,52.7ZM42.1,74.1 44.3,73.7 46.0,72.3 46.9,70.3 46.9,67.2 45.8,65.4 43.3,62.9 40.4,61.5 37.8,61.8 36.1,63.1 33.5,66.1 32.6,67.8 32.6,70.1 33.3,71.9 34.8,73.2 36.7,73.8ZM38.2,76.9 35.5,77.5 33.8,79.6 33.5,82.2 33.7,83.2 34.9,85.6 37.3,86.8 40.0,87.3 42.2,87.1 44.1,85.9 45.1,84.0 45.1,81.7 44.8,80.4 43.3,78.1 40.7,77.0ZM31.2,92.9 30.5,95.0 30.8,97.2 32.2,98.9 34.2,99.8 37.7,100.4 39.9,100.3 41.7,99.1 42.8,97.2 42.8,95.0 42.5,93.6 41.2,91.3 38.9,90.1 36.5,89.7 34.0,90.0 32.1,91.7ZM32.1,102.5 29.7,102.8 27.7,104.3 26.9,106.6 27.4,109.0 30.4,114.9 32.3,116.9 34.9,117.4 37.4,116.3 42.5,111.7 43.8,109.6 43.8,107.1 42.5,105.0 40.3,103.9ZM41.6,-3.5 40.4,-1.7 40.1,0.5 40.9,2.5 42.5,3.9 46.9,6.1 48.9,6.6 50.9,6.2 52.5,4.9 54.1,2.9 55.0,0.5 54.5,-2.0 52.7,-3.8 48.9,-5.9 46.2,-6.5 43.7,-5.4ZM54.7,17.5 52.5,16.9 50.4,17.5 48.8,19.1 48.1,21.3 47.9,27.1 48.6,29.6 50.6,31.3 54.0,31.5 56.0,30.6 57.3,28.9 57.7,26.8 57.3,21.2 56.6,19.1ZM49.1,40.2 49.7,43.5 52.0,47.3 54.4,49.2 55.9,49.7 58.3,49.8 60.4,48.7 61.6,46.7 61.7,44.3 60.0,37.7 58.9,35.8 57.1,34.6 54.9,34.4 53.2,34.7 50.8,35.9 49.6,38.2ZM48.2,56.4 47.1,58.5 47.2,60.8 48.5,62.7 50.6,63.8 52.9,63.7 54.2,63.2 55.9,62.3 57.0,60.6 57.3,57.7 56.7,55.7 55.2,54.2 53.2,53.5 51.2,53.8 49.4,55.0ZM50.5,67.8 49.9,71.3 51.0,72.5 59.4,75.7 60.4,75.8 61.4,75.2 62.1,74.2 61.6,67.5 59.5,65.6 58.7,65.2 51.4,67.3ZM47.6,75.5 47.1,76.3 47.1,77.2 48.5,83.0 49.1,83.8 50.0,84.3 56.1,85.3 57.0,85.3 57.7,84.8 58.9,80.3 58.5,78.8 49.5,75.1 48.5,75.0ZM50.6,87.4 48.4,87.6 46.6,88.8 45.5,90.7 45.4,92.9 45.9,94.9 47.1,97.1 49.4,98.3 51.9,98.1 55.5,96.8 57.4,95.4 58.3,93.3 58.1,91.0 56.8,89.1 54.7,88.1ZM49.9,102.1 48.3,103.2 47.2,104.8 47.1,107.5 47.8,109.4 49.4,110.9 53.3,113.1 55.7,113.7 58.0,112.9 59.6,111.1 62.1,105.8 62.6,103.7 62.0,101.7 60.6,100.1 58.6,99.4 56.5,99.6ZM54.1,7.8 53.2,10.2 53.7,12.7 55.5,14.5 58.8,15.8 60.5,15.6 64.0,14.6 66.0,13.3 67.1,11.3 67.0,8.9 66.0,5.9 65.1,4.2 62.5,2.6 60.5,2.2 58.6,2.7 57.0,3.9ZM60.6,25.4 61.5,27.7 63.6,29.3 66.1,29.4 68.4,28.2 72.3,24.0 73.5,21.8 73.3,19.3 71.8,17.3 69.8,16.4 67.7,16.6 63.6,17.8 61.9,18.8 60.7,20.5 60.4,22.5ZM68.0,33.4 67.2,32.7 66.1,32.6 63.8,33.0 63.0,33.5 62.5,34.3 62.4,35.2 65.3,46.2 65.9,47.1 67.8,47.6 68.9,47.3 72.8,44.8 73.5,44.2 73.7,43.3 73.4,42.4ZM60.4,59.5 61.0,61.6 62.6,63.1 64.7,63.8 67.9,62.8 69.6,61.4 70.4,59.4 70.2,57.2 69.0,54.0 67.4,51.9 65.0,51.0 62.6,51.6 60.7,53.4 60.2,55.8ZM69.2,65.5 66.5,67.4 65.6,69.4 65.9,71.6 67.1,73.4 69.0,74.5 71.1,74.9 73.3,74.9 75.3,73.7 76.4,71.8 76.5,69.5 75.4,67.5 74.4,66.5 72.0,65.1ZM61.4,83.2 61.5,85.5 62.8,87.4 64.9,88.5 67.2,88.4 71.9,86.8 73.9,85.5 74.9,83.5 74.8,81.2 73.6,79.2 71.6,78.1 67.4,77.1 65.0,77.2 63.0,78.5 61.9,80.6ZM66.4,91.8 64.2,93.3 63.4,95.9 64.1,98.5 66.3,101.2 67.9,101.9 71.5,102.6 74.5,102.2 76.4,100.5 77.1,98.4 76.7,96.2 75.3,93.1 73.9,91.4 71.9,90.5 69.8,90.7ZM61.6,113.9 61.2,116.2 62.0,118.4 64.4,120.2 66.5,120.6 68.6,120.0 71.6,118.3 73.5,116.2 73.8,113.5 72.8,109.1 71.8,107.1 70.0,105.8 67.8,105.6 65.8,106.4 64.3,108.1ZM74.3,15.5 76.5,16.3 78.9,15.9 80.7,14.4 85.2,7.9 85.9,6.2 85.8,4.1 84.6,2.1 82.7,0.9 78.2,-0.4 76.4,-0.6 74.7,0.0 71.6,1.8 70.1,3.2 69.4,5.0 69.5,7.1 71.1,12.0 72.7,14.2ZM88.8,22.9 86.5,22.4 84.2,23.1 82.6,24.9 82.1,27.2 83.0,29.5 85.0,31.5 87.0,32.1 89.0,31.7 90.8,30.1 91.8,27.7 91.3,25.2ZM81.6,32.8 79.9,31.3 77.6,30.9 75.5,31.6 74.0,33.3 73.5,35.5 74.1,37.7 75.9,40.6 77.5,42.3 80.1,42.8 82.4,42.1 84.1,40.3 84.5,38.0 83.7,35.7ZM72.2,54.0 73.6,55.9 75.8,56.8 78.2,56.5 82.9,54.4 84.8,52.9 85.5,50.6 85.0,48.2 83.3,46.4 81.0,45.8 78.1,45.9 75.8,46.6 73.7,47.9 72.3,49.3 71.6,51.2ZM79.8,59.1 78.1,60.4 77.2,62.3 77.3,64.4 78.4,66.3 80.5,67.8 82.7,67.9 84.7,67.1 86.2,66.0 87.5,64.3 87.9,62.2 87.3,60.1 85.8,58.5 83.8,57.9 81.6,58.3ZM92.2,81.0 89.8,81.7 88.1,83.5 87.7,86.1 89.1,88.9 90.7,90.1 92.7,90.5 95.5,89.5 97.2,87.9 97.9,85.7 97.4,83.4 95.8,81.7 93.6,81.0ZM82.6,99.2 83.5,99.0 87.3,96.8 88.7,94.8 88.9,93.8 88.5,92.8 81.2,84.1 79.7,83.5 78.3,84.3 76.7,86.8 76.4,87.7 76.5,88.6 80.9,98.1 81.5,98.9ZM82.7,103.6 82.2,102.7 81.2,102.3 80.1,102.5 76.2,104.6 75.5,105.5 75.3,106.6 77.2,115.2 77.7,116.0 78.5,116.5 84.0,118.2 84.9,118.2 85.8,117.7 86.2,116.9 86.2,116.0ZM90.7,-2.3 89.2,-1.0 88.5,0.8 88.6,2.9 89.7,4.9 91.6,6.1 97.2,7.8 99.9,7.8 102.1,6.3 105.1,2.5 106.0,0.4 105.8,-1.9 104.9,-4.3 103.3,-6.3 100.9,-7.2 98.5,-6.6ZM95.1,23.0 97.2,23.6 99.3,23.2 101.0,21.8 101.8,19.8 101.6,17.7 100.3,13.9 99.2,12.1 97.4,11.0 91.7,9.3 88.9,9.3 86.7,11.0 85.9,12.2 85.1,14.5 85.6,16.9 87.4,18.7ZM91.9,33.5 91.0,35.9 91.4,38.4 93.3,40.3 95.8,40.8 100.7,40.4 102.9,39.6 104.4,37.7 104.8,35.3 104.1,30.6 103.0,28.3 100.8,26.9 98.2,27.0 96.1,28.4ZM92.7,44.1 90.3,45.0 88.8,47.0 88.6,49.5 89.9,53.9 91.2,55.9 92.8,57.4 94.9,57.9 97.1,57.4 106.0,52.7 107.4,51.5 108.3,49.8 108.6,47.0 107.7,44.9 105.9,43.6 103.8,43.2ZM98.3,76.8 98.9,79.0 100.5,80.6 102.7,81.2 104.9,80.7 106.6,79.1 107.5,77.7 108.2,75.6 107.9,73.5 106.6,71.8 104.7,70.8 103.7,70.6 101.1,70.9 99.0,72.6 98.3,75.1ZM86.0,69.8 84.7,71.5 84.3,73.7 84.9,75.8 86.5,77.3 88.6,77.9 90.7,78.0 93.0,77.4 94.7,75.7 95.3,73.4 95.2,71.8 94.5,69.5 92.7,67.9 90.3,67.4 88.0,68.3ZM100.0,107.2 100.9,107.8 101.9,107.7 102.8,107.1 103.1,106.2 104.3,92.2 103.7,90.7 102.1,89.8 101.1,90.0 92.6,94.4 91.3,96.3 91.1,97.4 91.6,98.3ZM86.5,100.7 85.6,102.0 85.6,102.8 88.5,113.0 89.1,113.8 90.1,114.3 91.1,114.0 96.4,111.1 97.2,110.3 97.3,109.2 96.9,108.3 89.6,100.6 88.1,100.0ZM104.4,16.7 105.9,18.8 108.3,19.7 110.8,19.2 115.3,16.8 116.9,15.3 117.7,13.2 117.3,11.0 115.0,5.9 113.8,4.3 111.8,3.3 109.2,3.3 107.1,4.8 103.9,8.8 103.0,10.9 103.2,13.0ZM122.6,31.5 123.7,31.9 124.7,31.6 127.3,29.7 127.9,29.0 128.1,28.0 127.7,27.1 121.2,18.8 119.8,18.1 119.0,18.3 112.6,21.9 112.4,22.7 112.5,23.6 113.1,24.3ZM114.7,29.3 112.8,28.4 110.7,28.6 108.8,29.6 107.7,31.4 107.5,33.5 107.9,36.0 108.7,38.0 110.3,39.4 112.4,39.9 114.5,39.3 116.2,38.4 117.8,36.9 118.5,34.8 118.2,32.6 116.8,30.9ZM118.8,51.4 116.2,51.6 114.2,53.2 113.3,55.6 114.4,58.9 115.8,60.3 117.7,61.0 120.9,60.4 122.9,59.2 123.9,57.1 123.8,54.8 122.6,52.8 120.5,51.8ZM100.8,58.8 99.2,60.3 98.4,62.3 98.7,64.5 100.0,66.3 102.0,67.2 107.8,68.4 110.4,68.2 112.4,66.6 113.2,64.2 112.6,61.7 110.7,58.4 109.1,56.8 106.9,56.2 104.7,56.7ZM107.7,83.0 107.0,85.1 107.4,87.3 108.8,89.0 110.9,89.9 115.9,90.6 118.0,90.3 119.8,89.1 120.8,87.2 120.8,85.0 119.3,78.9 118.0,76.7 115.7,75.6 113.1,75.9 111.2,77.6ZM106.5,101.6 106.9,103.8 108.3,105.5 110.3,106.4 112.5,106.2 114.7,105.4 116.3,104.4 117.4,102.7 117.6,100.7 117.3,97.3 116.6,95.4 115.3,94.0 113.4,93.2 112.0,93.1 109.6,93.4 107.7,94.9 106.9,97.1ZM120.1,113.1 119.6,111.0 118.2,109.4 116.2,108.6 114.1,108.8 110.8,110.0 108.8,111.4 107.9,113.5 108.1,115.8 108.7,117.4 109.8,119.1 111.7,120.1 114.9,120.6 118.1,118.9 119.5,117.3 120.1,115.3ZM4.0,120.6 1.5,120.6 -0.6,122.0 -1.6,124.3 -1.3,126.8 -0.6,128.4 1.0,130.3 3.4,131.0 5.9,130.4 7.5,129.4 9.2,127.5 9.6,124.9 8.5,122.6 6.3,121.2ZM24.8,124.8 23.4,127.0 23.5,129.6 25.0,131.7 26.6,133.0 28.6,133.9 30.8,133.7 32.7,132.5 33.7,130.6 34.7,127.0 34.7,124.7 33.6,122.7 31.7,121.5 29.4,121.4 27.4,122.4ZM41.6,116.5 40.4,118.3 40.1,120.5 40.9,122.5 42.5,123.9 46.9,126.1 48.9,126.6 50.9,126.2 52.5,124.9 54.1,122.9 55.0,120.5 54.5,118.0 52.7,116.2 48.9,114.1 46.2,113.5 43.7,114.6ZM54.1,127.8 53.2,130.2 53.7,132.7 55.5,134.5 58.8,135.8 60.5,135.6 64.0,134.6 66.0,133.3 67.1,131.3 67.0,128.9 66.0,125.9 65.1,124.2 62.5,122.6 60.5,122.2 58.6,122.7 57.0,123.9ZM74.3,135.5 76.5,136.3 78.9,135.9 80.7,134.4 85.2,127.9 85.9,126.2 85.8,124.1 84.6,122.1 82.7,120.9 78.2,119.6 76.4,119.4 74.7,120.0 71.6,121.8 70.1,123.2 69.4,125.0 69.5,127.1 71.1,132.0 72.7,134.2ZM90.7,117.7 89.2,119.0 88.5,120.8 88.6,122.9 89.7,124.9 91.6,126.1 97.2,127.8 99.9,127.8 102.1,126.3 105.1,122.5 106.0,120.4 105.8,118.1 104.9,115.7 103.3,113.7 100.9,112.8 98.5,113.4ZM124.0,0.6 121.5,0.6 119.4,2.0 118.4,4.3 118.7,6.8 119.4,8.4 121.0,10.3 123.4,11.0 125.9,10.4 127.5,9.4 129.2,7.5 129.6,4.9 128.5,2.6 126.3,1.2ZM120.0,39.8 111.9,44.3 111.6,45.1 111.8,46.0 112.3,46.7 113.1,47.1 124.4,49.6 125.4,49.5 126.2,48.8 126.5,47.8 126.3,46.8 121.7,39.8 120.8,39.6ZM131.8,67.3 131.8,64.9 130.5,62.9 128.4,61.8 126.1,61.9 119.1,64.2 117.3,65.4 116.1,67.6 116.2,70.2 118.3,72.8 120.4,73.6 122.6,73.3 129.0,70.9 130.7,69.7ZM128.5,93.8 126.8,92.2 124.5,91.7 122.2,92.4 120.6,94.2 120.2,96.6 120.7,101.2 121.4,103.3 123.1,104.8 125.3,105.3 127.6,105.2 129.8,104.5 131.4,102.8 131.9,100.6 131.3,98.4ZM124.0,120.6 121.5,120.6 119.4,122.0 118.4,124.3 118.7,126.8 119.4,128.4 121.0,130.3 123.4,131.0 125.9,130.4 127.5,129.4 129.2,127.5 129.6,124.9 128.5,122.6 126.3,121.2Z" fill="#f8a93f" fill-opacity="0.78"/></pattern>
<pattern id="pCellD" width="66" height="66" patternUnits="userSpaceOnUse"><path d="M-4.0,13.1 -5.1,14.4 -5.4,16.1 -4.7,17.8 -3.4,18.8 -1.6,19.0 0.3,18.4 1.3,17.3 1.7,15.8 1.3,13.8 0.0,12.5 -1.7,12.1ZM-6.8,23.5 -6.4,27.9 -5.3,28.6 -3.8,28.5 -3.3,28.1 0.1,23.5 0.3,22.3 0.0,21.8 -1.1,21.4 -6.3,22.3ZM-1.5,32.1 -3.2,31.7 -4.8,32.3 -5.9,33.6 -6.2,35.3 -6.0,38.9 -5.4,40.5 -4.1,41.6 -2.5,42.0 -0.6,41.4 0.5,40.1 0.8,38.4 0.5,34.8 -0.0,33.3ZM-1.8,44.3 -5.0,44.9 -6.0,45.8 -6.6,47.1 -7.4,51.0 -7.0,53.3 -6.4,54.4 -5.5,55.5 -3.7,56.2 -1.3,55.9 2.0,54.0 3.2,52.8 3.7,51.2 3.3,49.6 1.3,46.0 0.0,44.7ZM-9.0,65.4 -7.3,67.7 -5.8,68.3 -4.2,68.0 -2.9,67.0 -1.4,64.3 -2.1,61.4 -3.2,60.0 -4.8,59.4 -6.5,59.6 -7.9,60.7 -8.7,61.9 -9.4,63.6ZM1.8,-9.1 0.6,-8.0 0.1,-6.5 0.4,-4.9 1.6,-2.7 4.5,-1.6 6.2,-1.5 7.6,-2.3 8.5,-3.7 8.6,-5.3 7.6,-7.5 6.3,-8.9 4.4,-9.8ZM21.4,1.0 23.4,1.8 25.4,1.2 28.2,-0.7 29.3,-2.0 29.6,-3.7 29.0,-5.4 27.6,-6.4 25.5,-7.3 23.7,-7.6 22.1,-6.9 21.1,-5.5 20.2,-3.0 20.0,-1.0ZM37.7,-7.9 36.7,-6.4 36.5,-4.7 37.3,-3.1 38.8,-2.2 41.4,-1.3 42.9,-1.2 44.4,-1.8 45.4,-3.0 45.7,-4.5 45.7,-7.5 45.1,-9.2 43.8,-10.4 42.0,-10.7 40.3,-10.0ZM57.0,-0.6 58.7,1.7 60.2,2.3 61.8,2.0 63.1,1.0 64.6,-1.7 63.9,-4.6 62.8,-6.0 61.2,-6.6 59.5,-6.4 58.1,-5.3 57.3,-4.1 56.6,-2.4ZM7.7,5.0 7.6,3.4 6.7,2.0 5.3,1.2 3.1,0.6 1.2,0.6 -0.4,1.7 -1.4,3.1 -2.1,4.8 -1.7,6.5 -1.1,7.7 0.6,9.4 2.9,9.9 5.7,8.8 6.8,7.9ZM4.1,17.8 4.4,19.4 5.6,20.6 7.1,21.7 8.6,22.2 10.2,22.0 11.3,21.2 12.0,20.1 13.2,16.9 13.4,15.4 13.0,14.1 12.0,13.0 9.7,11.4 8.0,10.9 6.3,11.2 4.7,12.6 4.2,14.2ZM-0.3,28.2 -0.6,28.9 -0.4,29.6 1.5,30.7 5.8,28.8 6.5,27.8 6.8,24.7 5.0,23.2 3.7,23.1ZM3.0,35.9 3.7,37.6 5.3,38.7 7.2,38.8 9.0,37.9 9.9,36.5 10.0,34.9 8.8,32.8 7.7,31.9 6.3,31.6 4.8,32.0 3.4,33.3ZM6.2,41.6 4.6,42.6 3.9,44.4 4.3,46.3 5.6,48.1 7.1,48.7 8.6,48.5 11.2,47.6 12.5,46.8 13.3,45.5 13.4,44.0 12.6,42.1 11.0,40.9 8.9,40.8ZM0.8,62.1 1.6,63.3 2.9,64.0 4.5,64.4 6.2,64.5 7.6,63.7 8.5,62.3 8.6,60.2 7.6,58.5 6.3,57.1 4.4,56.2 2.3,56.6 0.6,58.0 0.1,59.5ZM13.4,1.1 12.1,1.4 11.0,2.4 10.4,3.7 9.9,6.2 10.1,8.1 11.3,9.6 14.7,11.9 15.9,12.4 19.6,11.9 21.0,11.2 22.0,10.0 22.3,8.5 21.8,4.8 18.5,1.7 16.2,0.9ZM21.9,18.1 21.3,16.5 19.9,15.5 18.2,15.3 16.6,16.0 15.6,17.4 14.8,19.4 14.7,20.9 15.1,22.3 16.7,23.7 18.3,24.3 20.4,23.8 21.9,22.3 22.3,20.3ZM14.2,24.9 12.6,24.4 11.0,24.7 9.7,25.7 9.0,27.5 9.1,28.9 11.0,31.7 12.2,32.6 13.8,32.9 15.3,32.3 16.4,31.2 16.8,29.7 16.5,27.0ZM15.2,35.4 13.9,36.6 13.5,38.4 14.1,40.1 17.1,44.5 18.4,45.6 20.1,45.9 22.2,45.1 23.2,44.0 23.7,42.7 23.5,41.2 21.9,36.7 21.2,35.5 19.5,34.5 18.0,34.2ZM18.2,51.7 18.8,50.6 18.5,48.9 17.7,48.3 16.7,48.3 7.1,51.6 6.3,52.5 6.2,53.5 8.9,56.3 10.0,56.7ZM14.9,64.5 16.7,63.9 17.8,62.4 18.3,60.0 17.7,58.5 16.4,57.5 14.8,57.2 12.7,58.0 11.5,59.5 11.2,61.4 12.0,63.3 13.2,64.3ZM24.7,7.8 25.0,9.2 26.0,10.3 28.6,11.2 30.3,11.0 31.7,10.1 32.5,8.5 33.0,5.7 32.8,3.8 31.6,2.4 29.8,1.8 27.9,2.4 26.0,3.7 24.9,5.0ZM28.2,13.5 26.6,13.6 25.3,14.4 24.4,15.7 24.3,17.3 24.8,21.1 25.4,22.5 26.5,23.5 29.1,24.9 30.6,25.3 32.1,25.0 33.9,23.2 34.5,21.7 34.3,20.1 32.7,16.0 31.8,14.7 30.3,14.0ZM27.3,28.7 27.7,27.6 27.0,26.5 24.5,25.1 23.3,25.1 19.5,27.0 19.2,30.8 19.4,31.5 20.0,32.0 22.1,32.8ZM25.4,39.5 26.5,41.0 28.3,41.7 30.1,41.3 31.5,40.0 33.6,36.1 34.0,34.7 33.3,32.3 32.4,31.1 31.0,30.4 29.5,30.4 28.1,31.1 25.5,33.3 24.5,35.0 24.6,36.9ZM21.2,51.1 22.0,53.6 23.8,55.3 27.2,56.8 28.9,57.0 30.5,56.4 31.6,55.0 31.8,53.3 31.1,48.1 30.5,46.6 29.2,45.6 27.1,45.3 25.4,45.8 22.7,47.6 21.6,48.9ZM21.4,67.0 23.4,67.8 25.4,67.2 28.2,65.3 29.3,64.0 29.6,62.3 29.0,60.6 27.6,59.6 25.5,58.7 23.7,58.4 22.1,59.1 21.1,60.5 20.2,63.0 20.0,65.0ZM35.6,5.4 35.7,7.1 36.7,8.6 38.4,9.2 40.1,9.0 41.4,8.5 42.6,7.5 43.3,6.2 42.9,3.3 42.1,1.9 40.2,0.8 38.3,0.8 36.8,1.7 35.9,3.4ZM36.3,18.5 37.5,20.1 39.5,20.6 41.2,20.5 43.0,20.0 44.1,18.5 44.3,16.7 43.9,14.4 43.0,12.7 41.3,11.8 39.4,12.0 37.5,12.8 36.2,13.8 35.5,15.4 35.7,17.0ZM34.9,25.9 34.3,27.5 34.5,29.2 35.7,31.9 36.8,33.2 38.4,33.8 42.8,34.3 44.6,34.0 46.1,32.5 46.6,31.1 46.3,29.6 44.6,25.1 43.3,23.5 41.4,23.0 38.5,23.1 37.1,23.5ZM34.1,40.1 33.8,42.1 34.6,43.9 36.2,44.9 40.5,46.0 42.6,45.8 44.2,44.4 45.8,40.9 45.3,38.9 44.3,37.4 42.6,36.7 38.6,36.3 36.7,36.7 35.3,38.0ZM39.4,53.6 40.4,52.1 40.5,50.3 39.7,48.8 38.0,47.9 36.4,47.9 35.0,48.6 34.1,49.9 34.0,51.5 34.7,53.1 36.0,54.2 37.8,54.4ZM37.7,58.1 36.7,59.6 36.5,61.3 37.3,62.9 38.8,63.8 41.4,64.7 42.9,64.8 44.4,64.2 45.4,63.0 45.7,61.5 45.7,58.5 45.1,56.8 43.8,55.6 42.0,55.3 40.3,56.0ZM50.1,6.8 51.9,6.8 53.3,5.9 54.5,4.6 55.4,2.8 55.0,0.9 53.6,-0.8 51.8,-1.2 48.5,-1.1 46.5,-0.4 45.4,1.2 45.3,3.1 46.4,5.4 47.9,6.2ZM52.4,11.3 51.1,10.0 49.3,9.5 47.6,10.1 46.4,11.5 46.2,13.4 46.5,15.1 47.3,16.7 48.7,17.6 50.4,17.7 52.7,16.6 53.5,14.9 53.2,12.9ZM49.5,20.4 47.8,21.3 46.9,23.0 47.1,24.8 48.1,27.5 48.9,28.7 50.2,29.5 51.6,29.6 54.1,29.2 55.6,28.6 56.6,27.4 56.9,25.8 56.7,22.8 56.1,21.0 54.6,19.9 52.7,19.7ZM50.6,32.2 49.2,32.7 48.2,33.7 47.2,36.0 47.7,38.4 48.7,39.7 50.1,40.4 53.5,41.2 55.0,41.2 56.4,40.5 57.3,39.3 57.5,37.8 57.3,34.8 56.7,33.1 55.3,32.0 53.5,31.8ZM45.5,46.9 45.1,48.6 45.6,50.3 46.9,51.4 48.6,51.8 53.6,51.5 55.0,51.0 56.0,50.1 56.8,47.8 56.7,46.1 55.8,44.7 54.3,43.9 50.5,43.0 48.4,43.2 46.8,44.6ZM56.3,59.1 56.9,57.4 56.5,55.6 55.2,54.3 53.4,53.9 51.2,54.0 49.6,54.6 48.5,55.8 48.1,57.4 48.1,59.1 48.6,60.8 49.8,62.0 51.5,62.4 53.8,61.9 55.0,61.0ZM54.3,9.7 56.3,13.2 57.0,13.3 57.7,13.1 62.5,9.6 62.5,8.4 61.0,5.6 58.0,4.8 54.5,8.2 54.1,8.9ZM62.0,13.1 60.9,14.4 60.6,16.1 61.3,17.8 62.6,18.8 64.4,19.0 66.3,18.4 67.3,17.3 67.7,15.8 67.3,13.8 66.0,12.5 64.3,12.1ZM66.1,23.5 66.3,22.3 65.5,21.5 59.7,22.3 59.2,23.5 59.6,27.9 60.7,28.6 62.2,28.5ZM64.5,32.1 62.8,31.7 61.2,32.3 60.1,33.6 59.8,35.3 60.0,38.9 60.6,40.5 61.9,41.6 63.5,42.0 65.4,41.4 66.5,40.1 66.8,38.4 66.5,34.8 66.0,33.3ZM64.2,44.3 61.0,44.9 60.0,45.8 59.4,47.1 58.6,51.0 59.0,53.3 59.6,54.4 60.5,55.5 62.3,56.2 64.7,55.9 68.0,54.0 69.2,52.8 69.7,51.2 69.3,49.6 67.3,46.0 66.0,44.7ZM63.9,61.4 62.8,60.0 61.2,59.4 59.5,59.6 58.1,60.7 57.3,61.9 56.6,63.6 57.0,65.4 58.7,67.7 60.2,68.3 61.8,68.0 63.1,67.0 64.6,64.3ZM5.7,74.8 6.8,73.9 7.4,72.5 7.6,69.4 6.7,68.0 5.3,67.2 3.1,66.6 1.2,66.6 -0.4,67.7 -1.4,69.1 -2.1,70.8 -1.7,72.5 -1.1,73.7 0.6,75.4 1.6,75.7 2.9,75.9ZM13.4,67.1 12.1,67.4 11.0,68.4 10.4,69.7 9.9,72.2 10.1,74.1 11.3,75.6 14.7,77.9 15.9,78.4 19.6,77.9 21.0,77.2 22.0,76.0 22.3,74.5 21.8,70.8 18.5,67.7 16.2,66.9ZM24.7,73.8 25.0,75.2 26.0,76.3 28.6,77.2 30.3,77.0 31.7,76.1 32.5,74.5 33.0,71.7 32.8,69.8 31.6,68.4 29.8,67.8 27.9,68.4 26.0,69.7 24.9,71.0ZM35.6,71.4 35.7,73.1 36.7,74.6 38.4,75.2 40.1,75.0 41.4,74.5 42.6,73.5 43.3,72.2 42.9,69.3 42.1,67.9 40.2,66.8 38.3,66.8 36.8,67.7 35.9,69.4ZM45.5,69.9 46.4,71.4 47.9,72.2 50.1,72.8 51.9,72.8 53.3,71.9 54.5,70.6 55.4,68.8 55.0,66.9 53.6,65.2 51.8,64.8 48.5,64.9 46.5,65.6 45.4,67.2ZM66.6,9.4 68.9,9.9 71.7,8.8 72.8,7.9 73.4,6.5 73.6,3.4 72.7,2.0 71.3,1.2 69.1,0.6 67.2,0.6 65.6,1.7 64.6,3.1 63.9,4.8 64.3,6.5 64.9,7.7ZM71.8,28.8 72.5,27.8 72.8,24.7 70.3,22.9 69.2,23.5 65.4,28.9 65.6,29.6 66.1,30.2 67.5,30.7ZM70.5,64.4 72.2,64.5 73.6,63.7 74.5,62.3 74.6,60.7 73.6,58.5 72.3,57.1 70.4,56.2 67.8,56.9 66.6,58.0 66.1,59.5 66.4,61.1 67.6,63.3ZM73.7,71.0 73.6,69.4 72.7,68.0 71.3,67.2 69.1,66.6 67.2,66.6 65.6,67.7 64.6,69.1 63.9,70.8 64.3,72.5 64.9,73.7 66.6,75.4 68.9,75.9 71.7,74.8 72.8,73.9Z" fill="#f59c3a" fill-opacity="0.95"/></pattern>
<pattern id="pCellL" width="112" height="112" patternUnits="userSpaceOnUse"><path d="M-11.6,3.0 -14.5,3.6 -16.5,6.0 -17.8,9.1 -18.2,11.3 -17.5,13.4 -16.0,15.0 -13.9,16.3 -11.9,17.0 -9.8,16.8 -3.0,14.6 -1.1,13.5 0.0,11.7 0.3,9.6 -0.8,6.6 -1.7,5.5 -4.9,3.7ZM3.0,21.0 1.6,19.0 -0.6,17.9 -3.1,18.0 -7.5,19.5 -9.8,21.1 -10.8,23.8 -10.9,25.6 -10.4,27.9 -9.0,29.7 -6.6,31.4 -4.4,32.3 -2.1,32.1 -0.1,30.8 2.7,27.6 3.8,25.4 3.6,22.9ZM-12.3,62.6 -14.1,64.3 -14.8,66.7 -14.2,69.2 -12.1,72.9 -10.2,74.8 -7.6,75.3 -3.9,75.1 -1.2,74.0 0.4,71.7 2.3,65.3 2.4,63.1 0.8,60.1 -0.9,58.7 -3.1,58.2 -5.2,58.8ZM-16.1,89.7 -14.8,92.5 -12.1,93.9 -3.6,95.2 -0.9,94.9 1.1,93.3 2.0,90.8 2.5,83.3 1.9,80.7 -0.0,78.8 -2.6,78.2 -8.3,78.6 -10.4,79.2 -11.9,80.7 -15.4,85.8ZM-15.4,106.4 -15.0,108.9 -13.5,110.9 -11.1,111.8 -7.9,112.2 -5.6,111.9 -3.7,110.4 -2.7,108.3 -1.9,103.7 -2.1,101.2 -3.5,99.2 -5.8,98.1 -9.2,97.6 -11.7,97.9 -13.7,99.4 -14.7,101.7ZM0.5,-3.2 0.8,-0.5 2.5,1.6 5.0,2.5 7.6,1.8 11.5,-0.5 13.2,-2.1 13.9,-4.3 14.1,-6.9 13.8,-8.9 12.6,-10.7 10.8,-11.8 7.7,-12.8 5.0,-12.8 2.7,-11.4 1.5,-9.0ZM22.4,-11.5 20.0,-11.0 18.1,-9.4 17.3,-7.1 17.1,-3.8 17.4,-1.7 18.6,0.1 20.0,1.4 21.8,2.5 23.9,2.6 25.9,1.9 29.0,-0.1 31.2,-3.0 31.6,-5.9 30.6,-9.2 29.0,-10.7 26.9,-11.2ZM38.6,-14.3 36.2,-13.3 34.6,-11.3 34.4,-8.7 35.5,-5.6 37.3,-4.2 43.1,-1.5 45.5,-1.0 48.5,-2.3 50.3,-4.6 50.5,-7.6 49.4,-11.5 48.3,-13.4 46.4,-14.7 44.2,-14.9ZM68.0,-9.0 68.5,-11.5 67.7,-13.9 65.9,-15.5 63.4,-16.0 57.5,-15.6 54.9,-14.7 53.3,-12.4 53.2,-9.6 54.0,-6.7 54.9,-4.9 58.1,-2.8 60.3,-2.3 62.4,-2.8 64.1,-3.6 66.3,-5.7ZM79.0,-7.5 77.2,-9.2 74.8,-9.8 72.4,-9.1 70.6,-7.0 70.0,-4.9 70.5,-2.8 72.2,-0.7 74.7,0.3 77.3,-0.1 79.3,-1.9 80.0,-4.4ZM96.6,-5.6 97.0,-3.1 98.5,-1.1 100.9,-0.2 104.1,0.2 106.4,-0.1 108.3,-1.6 109.3,-3.7 110.1,-8.3 109.9,-10.8 108.5,-12.8 106.2,-13.9 102.8,-14.4 100.3,-14.1 98.3,-12.6 97.3,-10.3ZM3.7,11.1 4.0,12.0 4.8,12.7 5.8,12.8 19.3,11.3 20.1,10.9 20.7,10.3 21.0,9.4 20.8,6.7 16.1,2.1 15.0,1.6 13.8,1.9 4.4,7.4 3.7,8.2ZM14.6,27.4 17.5,27.6 20.0,26.0 23.0,22.3 24.0,20.3 23.9,18.1 22.8,16.1 20.9,14.8 18.7,14.5 10.6,15.5 8.0,16.6 6.5,19.0 6.6,21.8 7.9,24.4 9.7,25.5ZM-1.2,39.5 -0.4,42.3 1.8,44.0 4.6,44.3 9.1,43.3 11.3,42.2 12.6,40.2 14.2,35.8 14.5,33.3 13.4,31.1 11.5,29.7 9.9,29.0 7.0,28.9 4.5,30.3 -0.0,35.5 -1.2,38.6ZM14.3,47.5 12.3,46.4 9.9,46.4 4.1,47.7 2.1,48.6 0.7,50.4 0.3,52.7 1.3,55.4 4.0,59.0 5.8,60.4 8.1,60.9 12.2,60.6 14.5,59.8 16.1,58.0 17.5,55.4 18.0,52.4 16.6,49.7ZM3.4,72.8 3.3,75.0 4.2,77.1 5.9,78.5 8.1,78.9 14.0,78.8 16.7,77.8 18.4,75.5 18.4,72.6 16.9,67.3 15.8,65.4 14.1,64.2 12.0,63.8 9.3,64.0 6.7,65.0 5.0,67.4ZM10.1,82.1 7.9,82.7 6.2,84.3 5.5,86.6 5.2,91.3 5.5,93.3 6.7,95.1 8.5,96.1 11.2,97.0 13.4,97.2 15.5,96.3 16.9,94.7 17.5,92.5 17.5,86.9 16.9,84.4 15.1,82.6 12.6,82.0ZM7.7,99.2 5.0,99.2 2.7,100.6 1.5,103.0 0.5,108.8 0.8,111.5 2.5,113.6 5.0,114.5 7.6,113.8 11.5,111.5 13.2,109.9 13.9,107.7 14.1,105.1 13.8,103.1 12.6,101.3 10.8,100.2ZM26.3,15.2 28.0,16.8 30.3,17.4 33.1,16.5 34.8,14.8 35.5,12.4 34.9,10.0 33.3,7.0 31.4,5.2 28.9,4.6 26.4,5.3 24.8,7.1 24.2,10.5 25.0,13.2ZM32.5,26.0 30.9,24.4 28.7,23.6 26.5,24.0 24.6,25.4 23.7,26.5 22.7,28.7 22.9,31.1 24.3,33.1 27.5,35.9 29.9,37.1 32.5,36.7 34.6,35.1 35.4,32.5 34.8,29.9ZM24.1,37.2 22.0,36.2 19.7,36.2 17.7,37.3 16.4,39.2 15.9,40.6 15.7,43.4 17.1,45.8 19.6,48.2 21.8,49.3 24.3,49.3 26.0,48.7 28.2,47.4 29.4,45.2 29.2,42.7 27.8,40.5ZM21.1,55.5 20.5,57.9 21.2,60.2 22.9,61.9 25.7,62.6 28.0,62.1 29.9,60.4 30.7,57.5 30.3,55.2 28.9,53.4 26.8,52.4 24.5,52.5 22.6,53.5ZM26.4,65.8 24.2,66.3 22.4,67.7 21.5,69.7 21.6,72.0 23.1,75.1 25.1,76.4 27.5,76.5 29.6,75.5 31.0,73.6 31.8,70.2 31.0,68.0 29.4,66.5ZM25.8,80.1 23.3,80.7 21.5,82.4 20.8,84.9 20.7,92.6 21.2,94.9 22.9,96.7 25.2,97.4 27.3,97.6 29.4,97.2 31.2,95.9 32.2,94.0 32.2,91.8 30.6,83.9 29.7,82.1 28.1,80.7ZM22.4,100.5 20.0,101.0 18.1,102.6 17.3,104.9 17.1,108.2 17.4,110.3 18.6,112.1 20.0,113.4 21.8,114.5 23.9,114.6 25.9,113.9 29.0,111.9 31.2,109.0 31.6,106.1 30.6,102.8 29.0,101.3 26.9,100.8ZM36.4,-1.0 35.5,-1.2 34.6,-0.9 33.9,-0.2 33.7,0.7 33.9,1.6 38.9,10.5 39.5,11.2 40.4,11.5 41.3,11.3 42.0,10.8 42.4,9.9 43.6,3.0 42.5,1.8ZM45.5,19.8 43.9,17.5 41.3,16.5 38.5,17.1 37.1,17.9 35.3,19.7 34.7,22.1 35.3,24.5 38.0,29.0 39.5,30.6 41.6,31.4 43.8,31.1 46.2,29.6 47.2,27.4 47.1,25.0ZM38.9,38.3 38.3,40.8 39.0,43.3 40.9,45.0 43.4,45.5 45.9,44.7 48.3,42.9 49.8,41.2 50.3,39.0 49.7,36.7 48.2,35.0 46.1,34.2 43.8,34.5 42.0,35.2 39.5,37.3ZM42.3,54.2 39.9,52.7 37.1,52.9 34.9,54.5 33.9,57.0 33.6,61.0 34.0,63.2 35.4,65.0 37.4,66.0 39.6,66.0 42.8,65.1 44.9,64.0 46.2,61.9 46.2,59.4 45.1,57.3ZM41.0,68.9 38.6,70.3 37.4,72.7 37.7,75.4 39.4,77.5 42.0,78.4 44.4,78.5 46.9,77.9 48.7,76.3 49.4,74.0 48.6,70.9 47.3,69.2 45.3,68.3 43.1,68.4ZM48.6,87.1 48.2,84.5 46.6,82.5 44.1,81.7 39.4,81.5 36.7,82.2 34.8,84.4 34.5,87.3 35.2,90.5 36.3,92.6 38.2,94.0 40.5,94.3 44.0,93.9 46.0,93.2 47.5,91.7 48.2,89.7ZM38.6,97.7 36.2,98.7 34.6,100.7 34.4,103.3 35.5,106.4 37.3,107.8 43.1,110.5 45.5,111.0 48.5,109.7 50.3,107.4 50.5,104.4 49.4,100.5 48.3,98.6 46.4,97.3 44.2,97.1ZM46.3,6.9 46.4,9.3 47.7,11.3 49.9,12.5 52.3,12.4 55.3,11.5 57.2,10.5 58.4,8.9 58.8,6.8 58.7,3.9 58.0,1.4 55.9,-0.4 53.4,-0.9 51.0,-0.1 48.8,1.3 47.5,2.7 46.7,4.4ZM52.7,15.6 50.5,17.0 49.3,19.2 49.4,21.7 51.1,27.1 52.1,28.8 53.7,30.0 57.4,31.7 59.7,32.1 61.9,31.4 63.7,29.7 64.5,27.6 65.2,21.1 64.9,18.9 63.7,17.1 62.1,15.5 59.9,14.2 57.4,14.3ZM58.9,42.6 58.5,41.8 57.7,41.2 56.8,41.1 55.9,41.4 45.0,49.2 44.3,50.1 44.2,51.1 44.7,52.1 48.7,56.4 49.6,57.0 50.8,56.9 52.5,55.7 58.8,44.7ZM68.7,54.3 68.1,52.9 63.0,48.4 62.0,48.0 60.9,48.1 60.1,48.9 56.9,54.6 56.7,55.7 57.1,56.7 58.0,57.3 67.2,59.9 68.0,59.5 68.6,58.9ZM55.9,60.0 53.3,60.0 51.0,61.3 49.8,63.7 50.2,66.8 52.4,71.3 53.9,73.1 56.0,73.9 58.2,73.8 60.2,72.6 63.1,69.6 64.3,67.4 64.3,65.0 63.1,62.9 61.1,61.6ZM51.7,87.8 52.2,90.5 54.1,92.6 56.8,93.2 60.0,92.2 61.6,89.9 61.7,87.2 61.4,85.7 60.0,83.5 57.7,82.2 55.1,82.4 53.0,83.9 52.0,86.3ZM68.0,103.0 68.5,100.5 67.7,98.1 65.9,96.5 63.4,96.0 57.5,96.4 54.9,97.3 53.3,99.6 53.2,102.4 54.0,105.3 54.9,107.1 58.1,109.2 60.3,109.7 62.4,109.2 64.1,108.4 66.3,106.3ZM69.8,1.4 67.3,0.4 64.6,0.8 62.7,2.7 62.0,5.3 62.1,9.1 63.5,12.4 64.9,13.7 67.5,15.1 70.5,14.5 73.5,13.0 75.2,11.4 76.0,9.2 75.6,6.9 74.2,5.0ZM79.9,30.0 82.1,28.5 83.1,26.1 84.0,19.8 83.8,17.6 82.7,15.8 80.9,14.6 78.7,14.3 76.8,14.8 70.8,18.0 69.1,19.5 68.3,21.7 67.9,25.9 68.1,28.1 69.3,29.9 72.4,31.5 75.5,31.5ZM63.7,34.1 61.8,36.2 61.5,39.0 62.0,41.9 63.6,44.6 67.3,47.9 69.2,48.9 71.5,48.9 73.5,47.9 75.5,45.1 75.4,42.3 73.5,37.1 72.3,35.3 70.5,34.2 68.1,33.4 66.0,33.1ZM74.6,57.9 85.5,53.0 85.9,52.2 85.9,51.3 85.5,50.5 79.8,48.1 78.8,48.0 77.9,48.5 72.6,52.9 71.9,54.3 72.0,56.2 72.2,57.1 72.8,57.8 73.7,58.1ZM65.7,71.5 64.5,73.6 64.5,76.1 65.8,78.3 68.0,79.5 71.6,80.3 73.7,80.4 75.7,79.4 77.1,77.7 77.5,75.5 77.0,72.3 75.6,70.7 73.9,69.3 71.8,68.3 69.4,68.5 67.5,69.7ZM68.9,94.1 70.0,94.2 71.0,93.7 71.5,92.8 73.3,86.1 73.3,85.1 72.8,84.2 71.9,83.7 66.7,82.5 65.8,82.5 64.9,83.0 64.4,83.8 64.4,84.8 66.3,92.2 66.8,92.9ZM79.0,104.5 77.2,102.8 74.8,102.2 72.4,102.9 70.6,105.0 70.0,107.1 70.5,109.2 72.2,111.3 74.7,112.3 77.3,111.9 79.3,110.1 80.0,107.6ZM84.3,12.5 86.8,12.7 89.0,11.7 90.5,9.8 92.1,5.7 92.4,2.8 91.0,0.4 88.4,-0.9 87.1,-1.1 84.5,-0.8 82.4,0.8 80.2,4.0 79.4,5.8 79.5,8.2 80.5,10.4 82.5,11.8ZM86.5,25.2 86.8,27.7 88.5,29.7 90.9,30.6 93.4,30.1 95.3,29.2 97.2,27.5 97.9,25.1 98.0,22.9 97.5,20.5 95.8,18.6 94.4,17.7 92.1,17.0 89.8,17.4 87.9,18.9 87.0,21.1ZM83.3,46.0 85.8,46.3 88.1,45.2 89.5,43.1 89.7,40.6 89.0,36.8 88.2,34.9 86.7,33.5 84.0,32.5 80.7,33.1 78.6,34.5 77.5,36.8 77.7,39.3 78.9,42.6 80.0,44.3 81.7,45.5ZM74.0,61.7 73.2,62.3 72.9,63.2 73.0,64.2 73.6,64.9 78.2,68.6 79.2,69.0 80.3,68.8 89.2,64.3 90.0,63.6 90.3,62.7 90.1,61.8 88.2,57.6 87.6,56.8 86.7,56.5 85.7,56.6ZM94.7,70.2 93.0,68.5 90.7,67.8 88.3,68.3 83.3,70.9 81.4,72.7 80.7,75.3 81.5,78.6 83.5,80.3 89.7,83.1 91.8,83.6 94.0,83.0 95.6,81.5 96.9,79.6 97.8,77.1 97.1,74.5ZM75.5,90.2 75.6,92.9 77.0,95.1 79.4,96.2 82.0,95.9 86.5,94.1 88.6,92.3 89.4,89.7 88.7,87.1 86.7,85.3 83.1,83.6 80.4,83.2 77.9,84.4 76.5,86.7ZM88.3,107.8 90.8,107.6 92.8,106.1 93.8,103.8 94.0,102.3 93.7,99.8 92.2,97.8 89.9,96.8 87.4,97.2 85.3,98.0 83.2,99.7 82.3,102.3 83.0,104.9 84.7,106.8 86.6,107.6ZM100.4,3.0 97.5,3.6 95.5,6.0 94.2,9.1 93.8,11.3 94.5,13.4 96.0,15.0 98.1,16.3 100.1,17.0 102.2,16.8 109.0,14.6 110.9,13.5 112.0,11.7 112.3,9.6 111.2,6.6 110.3,5.5 107.1,3.7ZM101.1,25.6 101.6,27.9 103.0,29.7 105.4,31.4 107.6,32.3 109.9,32.1 111.9,30.8 114.7,27.6 115.8,25.4 115.6,22.9 115.0,21.0 113.6,19.0 111.4,17.9 108.9,18.0 104.5,19.5 102.2,21.1 101.2,23.8ZM92.8,39.7 93.7,41.7 95.3,43.0 97.4,43.6 101.9,43.6 104.2,43.1 106.0,41.5 106.7,39.2 106.3,36.8 104.8,35.0 101.6,32.6 99.1,31.6 96.5,32.1 95.0,32.9 92.9,35.0 92.5,38.1ZM91.1,48.7 89.8,52.1 90.2,54.3 91.7,57.4 93.3,59.4 95.8,60.3 98.3,59.7 105.4,55.9 107.2,54.2 107.9,51.8 107.3,49.3 105.6,47.5 103.2,46.9 95.0,46.7 93.1,47.1ZM108.1,75.1 110.8,74.0 112.4,71.7 114.3,65.3 114.4,63.1 112.8,60.1 111.1,58.7 108.9,58.2 106.8,58.8 99.7,62.6 97.9,64.3 97.2,66.7 97.8,69.2 99.9,72.9 101.8,74.8 104.4,75.3ZM95.9,89.7 97.2,92.5 99.9,93.9 108.4,95.2 111.1,94.9 113.1,93.3 114.0,90.8 114.5,83.3 113.9,80.7 112.0,78.8 109.4,78.2 103.7,78.6 101.6,79.2 100.1,80.7 96.6,85.8ZM96.6,106.4 97.0,108.9 98.5,110.9 100.9,111.8 104.1,112.2 106.4,111.9 108.3,110.4 109.3,108.3 110.1,103.7 109.9,101.2 108.5,99.2 106.2,98.1 102.8,97.6 100.3,97.9 98.3,99.4 97.3,101.7ZM3.7,123.1 4.0,124.0 4.8,124.7 5.8,124.8 19.3,123.3 20.1,122.9 20.7,122.3 21.0,121.4 20.8,118.7 16.1,114.1 15.0,113.6 13.8,113.9 4.4,119.4 3.7,120.2ZM36.4,111.0 35.5,110.8 34.6,111.1 33.9,111.8 33.7,112.7 33.9,113.6 38.9,122.5 39.5,123.2 40.4,123.5 41.3,123.3 42.0,122.8 42.4,121.9 43.6,115.0 42.5,113.8ZM46.3,118.9 46.4,121.3 47.7,123.3 49.9,124.5 52.3,124.4 55.3,123.5 57.2,122.5 58.4,120.9 58.8,118.8 58.7,115.9 58.0,113.4 55.9,111.6 53.4,111.1 51.0,111.9 48.8,113.3 47.5,114.7 46.7,116.4ZM69.8,113.4 67.3,112.4 64.6,112.8 62.7,114.7 62.0,117.3 62.1,121.1 63.5,124.4 64.9,125.7 67.5,127.1 70.5,126.5 73.5,125.0 75.2,123.4 76.0,121.2 75.6,118.9 74.2,117.0ZM84.3,124.5 86.8,124.7 89.0,123.7 90.5,121.8 92.1,117.7 92.4,114.8 91.0,112.4 88.4,111.1 87.1,110.9 84.5,111.2 82.4,112.8 80.2,116.0 79.4,117.8 79.5,120.2 80.5,122.4 82.5,123.8ZM112.5,-3.2 112.8,-0.5 114.5,1.6 117.0,2.5 119.6,1.8 123.5,-0.5 125.2,-2.1 125.9,-4.3 126.1,-6.9 125.8,-8.9 124.6,-10.7 122.8,-11.8 119.7,-12.8 117.0,-12.8 114.7,-11.4 113.5,-9.0ZM110.8,39.5 111.6,42.3 113.8,44.0 116.6,44.3 121.1,43.3 123.3,42.2 124.6,40.2 126.2,35.8 126.5,33.3 125.4,31.1 123.5,29.7 121.9,29.0 119.0,28.9 116.5,30.3 112.0,35.5 110.8,38.6ZM116.0,59.0 117.8,60.4 120.1,60.9 124.2,60.6 126.5,59.8 128.1,58.0 129.5,55.4 130.0,52.4 128.6,49.7 126.3,47.5 124.3,46.4 121.9,46.4 116.1,47.7 114.1,48.6 112.7,50.4 112.3,52.7 113.3,55.4ZM112.5,108.8 112.8,111.5 114.5,113.6 117.0,114.5 119.6,113.8 123.5,111.5 125.2,109.9 125.9,107.7 126.1,105.1 125.8,103.1 124.6,101.3 122.8,100.2 119.7,99.2 117.0,99.2 114.7,100.6 113.5,103.0Z" fill="#f8ac42" fill-opacity="0.8"/></pattern>
<pattern id="pCellT" width="98" height="98" patternUnits="userSpaceOnUse"><path d="M-5.4,2.6 -7.1,1.5 -9.2,1.4 -11.7,2.9 -12.8,4.2 -13.2,5.9 -13.3,9.9 -13.0,11.8 -11.9,13.3 -10.2,14.1 -5.4,15.3 -2.7,15.1 -0.7,13.4 -0.2,12.4 0.4,9.8 -0.8,7.4ZM-9.3,58.8 -8.1,59.8 -6.6,59.4 0.7,53.0 1.2,52.3 1.3,51.4 0.9,50.6 -4.2,45.5 -5.1,45.5 -5.8,45.9 -6.3,46.6 -9.6,57.0ZM3.1,75.8 2.8,75.0 2.2,74.4 -8.3,68.5 -9.8,68.4 -10.8,69.4 -11.2,70.2 -11.1,71.1 -8.1,77.9 -7.5,78.6 -6.6,78.9 1.4,79.2 2.3,79.0 2.9,78.3ZM-9.8,92.0 -8.8,93.6 -7.1,94.6 -5.2,94.7 -3.4,94.0 3.0,89.2 4.3,87.6 4.7,85.6 4.1,83.7 2.6,82.2 0.6,81.7 -4.9,81.5 -7.2,82.1 -8.9,83.9 -10.3,87.1 -10.4,90.2ZM9.9,-2.9 9.1,-4.9 7.4,-6.2 5.2,-6.6 3.2,-5.8 -0.6,-2.9 -2.0,-1.1 -2.2,1.3 -1.1,3.4 1.6,5.6 3.5,5.9 5.2,5.4 8.1,3.7 9.8,2.0 10.2,-0.4ZM16.9,4.1 19.1,4.5 21.1,3.8 22.5,2.9 23.9,1.2 24.3,-1.0 24.1,-3.6 23.2,-5.8 21.2,-7.2 17.8,-8.3 15.7,-8.4 13.8,-7.6 12.6,-5.9 12.3,-3.8 12.7,-0.1 13.5,1.8 15.1,3.2ZM26.7,-2.3 27.4,-0.3 29.0,1.1 31.1,1.5 33.1,0.9 34.6,-0.6 36.4,-4.0 37.0,-6.2 36.2,-8.4 34.5,-9.9 32.2,-10.2 31.1,-10.0 28.9,-9.0 26.8,-6.6 26.5,-4.7ZM56.0,-1.8 56.2,-4.0 55.4,-6.0 53.7,-7.3 51.5,-7.6 49.1,-7.2 47.0,-6.3 45.6,-4.4 45.5,-2.1 46.5,-0.2 48.3,0.9 50.3,1.6 52.4,1.8 54.3,0.9ZM77.8,-10.2 76.0,-10.3 74.3,-9.6 73.1,-8.2 71.3,-5.1 70.8,-2.9 71.4,-0.8 73.0,0.8 74.8,1.4 81.5,2.0 83.1,1.8 85.0,0.6 86.3,-1.5 86.2,-3.9 85.4,-6.3 84.3,-8.0 82.5,-9.0ZM9.0,6.1 7.4,7.6 6.9,9.7 7.4,11.8 8.9,13.4 10.8,14.4 13.1,15.0 16.0,13.8 17.2,12.4 17.7,10.6 17.2,7.8 15.4,6.1 13.9,5.4 11.9,5.0ZM11.4,20.8 11.0,18.4 9.4,16.5 6.3,14.7 4.2,14.1 2.1,14.7 0.3,16.6 -0.3,19.2 -0.1,20.6 0.7,22.7 2.5,24.1 5.5,25.3 7.9,25.5 10.1,24.3 11.2,22.0ZM-4.8,34.4 -4.1,36.4 -2.7,37.8 -0.7,38.3 1.3,37.9 5.8,35.6 7.5,34.0 8.1,31.7 7.3,29.5 5.5,28.0 1.6,26.4 -0.7,26.2 -2.7,27.1 -4.7,29.4 -5.0,31.3ZM6.0,51.4 8.4,51.4 10.5,50.2 11.5,48.0 12.3,42.6 12.1,40.4 10.7,38.6 8.6,37.8 6.3,38.2 2.1,40.3 0.6,41.5 -0.2,43.3 -0.1,45.3 0.9,46.9 3.8,50.1ZM-1.7,65.7 -2.5,65.9 -3.2,66.5 -3.4,67.4 -3.2,68.2 -2.6,68.8 2.0,71.4 2.9,71.6 3.8,71.3 5.3,68.2 5.1,66.7 3.8,65.9ZM5.7,77.2 6.2,79.1 7.7,80.5 9.6,81.1 11.5,80.8 13.1,79.6 18.2,73.3 19.0,71.4 18.9,69.4 17.9,67.6 15.5,65.3 13.7,64.3 11.7,64.2 9.8,65.1 8.6,66.7 5.9,73.5 5.6,75.3ZM9.9,95.1 9.1,93.1 7.4,91.7 5.2,91.4 3.2,92.2 -0.6,95.1 -2.0,96.9 -2.2,99.3 -1.1,101.3 1.6,103.6 3.5,103.9 5.2,103.4 8.1,101.7 9.8,100.0 10.2,97.6ZM22.2,6.1 20.9,7.5 20.3,10.5 20.7,12.4 21.9,14.0 24.3,15.8 26.1,16.6 28.1,16.5 29.8,15.5 30.8,13.8 31.9,10.4 32.1,8.4 31.2,6.6 29.7,5.3 28.1,4.6 26.0,4.2 24.0,4.9ZM14.1,19.9 14.3,22.2 15.7,24.0 17.8,24.8 20.8,24.0 22.5,22.7 23.2,20.7 22.9,18.6 21.6,16.9 18.9,15.9 15.8,17.1ZM18.3,28.0 16.6,29.4 15.9,31.3 16.2,33.4 17.4,35.1 19.4,36.0 22.6,36.5 24.6,36.4 26.3,35.4 27.3,33.7 28.1,31.3 28.2,28.8 27.0,26.8 24.8,25.7 22.4,26.1ZM14.2,47.2 14.4,49.3 15.6,51.1 17.6,52.0 19.7,51.8 22.0,51.0 24.0,49.6 24.8,47.3 25.0,43.2 24.6,41.3 23.3,39.7 21.5,38.9 19.8,38.6 17.6,38.8 15.9,40.1 15.0,42.1ZM17.5,55.2 15.7,56.4 14.8,58.3 14.8,60.4 15.9,62.2 20.9,67.1 22.8,68.2 25.0,68.1 26.3,67.7 28.2,66.5 29.2,64.5 30.4,58.3 30.1,55.8 28.4,53.9 25.7,52.8 23.9,53.0ZM15.7,80.4 14.9,82.2 15.0,84.2 16.0,86.0 17.7,87.0 20.9,88.0 23.2,88.1 25.2,86.9 26.3,84.8 26.0,82.4 24.7,79.2 23.4,77.5 21.4,76.6 19.3,76.9 17.5,78.2ZM16.9,102.1 19.1,102.5 21.1,101.8 22.5,100.9 23.9,99.2 24.3,97.0 24.1,94.4 23.2,92.2 21.2,90.8 17.8,89.7 15.7,89.6 13.8,90.4 12.6,92.1 12.3,94.2 12.7,97.9 13.5,99.8 15.1,101.2ZM39.5,-4.2 34.9,4.5 35.6,5.9 38.6,6.2 43.1,1.4 43.4,-0.0 42.2,-4.5 40.8,-5.1ZM32.2,17.6 32.1,20.0 33.4,22.1 35.6,23.1 38.8,23.5 40.7,23.3 42.3,22.3 43.3,20.6 44.3,17.6 44.4,15.2 43.2,13.2 40.7,10.9 38.9,9.9 36.8,9.9 35.0,10.9 33.8,12.6ZM40.7,29.6 40.1,27.8 38.8,26.5 37.0,25.8 34.4,25.9 32.8,26.9 31.7,28.5 30.2,33.1 30.0,35.4 31.0,37.3 32.9,38.5 35.8,39.4 37.8,39.5 39.7,38.6 40.9,37.0 41.2,35.0ZM32.8,41.1 30.3,41.2 28.3,42.6 27.4,44.9 27.3,47.7 27.8,50.0 29.4,51.6 32.1,52.5 34.2,52.0 35.7,50.5 37.3,48.0 37.9,45.5 37.0,43.2 34.9,41.8ZM42.0,59.7 35.1,55.2 34.3,55.3 33.7,55.8 33.3,56.6 31.5,65.8 31.9,67.3 32.9,67.9 33.7,68.0 34.5,67.7 42.0,62.5 42.7,61.1ZM31.4,70.0 28.9,69.7 26.8,70.9 25.7,73.0 25.9,75.5 28.8,82.6 29.9,84.1 31.5,85.0 34.2,85.0 36.4,84.0 37.6,81.9 38.2,79.8 38.3,77.9 37.4,76.1 33.8,71.6ZM26.7,95.7 27.4,97.7 29.0,99.1 31.1,99.5 33.1,98.9 34.6,97.4 36.4,94.0 37.0,91.8 36.2,89.6 34.5,88.1 32.2,87.8 31.1,88.0 28.9,89.0 26.8,91.4 26.5,93.3ZM48.4,3.6 46.1,3.5 44.1,4.6 43.0,6.5 43.0,8.7 44.2,10.7 47.0,12.3 49.8,11.7 51.4,10.5 52.1,8.7 52.0,6.7 51.0,5.0ZM46.5,19.1 46.4,21.2 47.4,23.1 49.2,24.3 52.5,25.5 54.9,25.6 56.9,24.4 58.0,22.3 58.9,17.6 58.7,15.3 57.3,13.5 55.2,12.6 53.0,13.0 49.3,14.8 47.9,15.8ZM48.9,26.9 46.8,26.7 44.9,27.6 43.7,29.2 43.4,31.3 44.1,38.3 45.0,40.6 47.1,41.9 49.9,42.3 53.1,40.8 54.4,39.6 55.1,37.9 55.9,33.0 55.8,31.1 54.8,29.4 53.1,28.3ZM46.1,44.2 43.4,44.4 41.4,46.1 39.1,49.8 38.5,51.8 38.9,53.9 40.3,55.5 44.0,58.0 46.3,58.8 48.6,58.1 50.2,56.3 50.5,53.9 49.4,47.7 48.4,45.6ZM39.4,67.4 37.9,69.1 37.6,71.3 38.8,73.8 40.9,75.2 43.3,75.2 46.9,74.1 48.7,73.1 49.7,71.2 49.8,69.2 49.4,67.4 48.4,65.6 46.8,64.4 44.8,64.2 42.9,64.9ZM40.8,87.3 42.5,88.5 44.6,88.8 52.0,87.8 54.3,86.8 55.5,84.6 56.0,82.6 55.6,79.9 54.8,78.1 53.6,76.6 51.8,75.8 49.8,75.9 43.4,77.8 41.6,78.9 40.6,80.8 39.8,83.4 39.8,85.3ZM56.0,96.2 56.2,94.0 55.4,92.0 53.7,90.7 51.5,90.4 49.1,90.8 47.0,91.7 45.6,93.6 45.5,95.9 46.5,97.8 48.3,98.9 50.3,99.6 52.4,99.8 54.3,98.9ZM62.7,-2.7 60.8,-2.6 59.1,-1.7 58.0,-0.2 56.5,3.6 56.2,5.8 56.5,7.6 57.1,9.3 60.0,11.5 62.7,12.1 65.3,11.3 66.6,9.8 69.4,4.6 69.9,2.5 69.3,0.4 67.7,-1.4 66.1,-2.1ZM65.0,27.6 67.0,27.2 68.5,26.0 69.3,24.1 70.0,20.3 69.8,18.1 68.6,16.3 66.2,15.1 64.0,15.2 62.3,16.4 61.3,18.4 60.5,22.6 60.7,25.0 62.2,26.8ZM62.7,30.1 60.8,30.4 59.2,31.7 58.4,33.5 57.9,36.3 58.1,38.3 59.0,39.9 60.6,41.0 63.9,42.2 65.9,42.4 67.7,41.7 69.1,40.2 71.1,36.5 71.6,34.4 71.0,32.4 69.6,30.9 67.6,30.3ZM54.0,43.2 52.3,45.1 52.0,47.5 52.9,53.0 54.2,55.3 56.6,56.5 64.1,57.3 66.7,56.8 68.4,54.9 69.4,51.9 69.0,50.1 67.8,47.6 65.4,45.4 57.9,42.7 56.1,42.4ZM55.7,58.9 53.7,59.2 52.1,60.3 51.2,62.0 51.1,64.0 52.2,68.3 53.1,70.2 54.9,71.4 57.0,71.5 58.9,70.6 63.4,66.9 64.8,64.9 64.8,62.5 63.5,60.5 61.2,59.5ZM61.1,72.1 59.8,73.8 59.6,75.8 60.3,77.8 61.8,79.1 63.9,79.6 68.2,79.4 70.5,78.6 72.0,76.7 73.3,73.3 73.5,70.9 71.7,68.2 70.0,67.2 68.0,67.1 66.1,68.0ZM61.9,82.1 60.1,82.6 58.7,83.8 57.6,86.9 58.0,89.8 59.6,91.8 61.3,92.5 65.0,93.2 67.6,92.8 69.5,91.1 71.1,88.2 71.6,86.1 71.0,84.0 69.4,82.5 67.2,82.0ZM77.9,16.1 79.9,15.6 81.4,14.1 82.0,12.1 82.2,8.6 81.7,6.5 80.3,5.0 78.3,4.3 75.5,4.0 73.1,4.5 71.4,6.2 69.6,9.6 69.1,11.4 69.5,13.2 71.0,15.1 73.8,16.1ZM71.8,25.0 71.9,27.1 73.1,28.8 74.9,29.8 76.9,29.8 78.8,28.8 80.0,27.7 81.1,25.7 81.2,23.4 80.7,21.7 79.2,19.5 76.4,18.6 74.5,19.1 73.0,20.3 72.2,22.1ZM71.0,42.0 70.5,44.2 71.2,46.3 72.8,47.8 75.0,48.2 77.1,47.4 80.0,45.4 81.4,43.4 81.6,41.0 80.3,38.8 79.1,37.8 76.9,36.7 74.4,37.2 72.6,38.9ZM89.3,46.0 89.3,45.0 88.7,44.1 87.2,43.8 86.1,44.1 78.3,49.7 77.8,50.3 77.6,51.2 77.9,52.0 84.3,55.2 85.2,55.3 86.1,54.9 86.6,54.1ZM76.1,54.2 74.0,53.8 72.0,54.6 70.6,56.2 69.9,57.8 69.6,60.5 70.0,62.1 71.1,64.1 74.9,67.8 76.4,68.7 78.0,69.0 82.6,68.8 84.3,68.4 86.6,66.1 87.6,64.0 87.3,61.7 86.5,60.0 84.4,58.0ZM79.4,71.5 77.1,72.3 75.6,74.2 73.8,78.9 73.9,82.1 75.2,84.0 76.8,84.9 81.5,86.1 83.5,86.2 85.2,85.4 86.4,83.8 87.3,81.8 87.7,80.1 87.4,78.3 85.4,73.9 83.8,72.0 81.4,71.4ZM71.3,92.9 70.8,95.1 71.4,97.2 73.0,98.8 74.8,99.4 81.5,100.0 83.1,99.8 85.0,98.6 86.3,96.5 86.2,94.1 85.4,91.7 84.3,90.0 82.5,89.0 77.8,87.8 76.0,87.7 74.3,88.4 73.1,89.8ZM92.6,2.6 90.9,1.5 88.8,1.4 86.3,2.9 85.2,4.2 84.8,5.9 84.7,9.9 85.0,11.8 86.1,13.3 87.8,14.1 92.6,15.3 95.3,15.1 97.3,13.4 97.8,12.4 98.4,9.8 97.2,7.4ZM88.4,16.9 86.3,16.9 84.4,18.0 83.4,19.9 83.4,22.1 84.7,24.9 86.5,25.9 89.1,26.7 91.1,26.7 93.8,25.0 95.1,23.2 95.2,20.9 94.1,18.9 92.1,17.8ZM83.8,38.6 85.5,39.5 87.5,39.5 89.3,38.7 90.4,37.1 90.8,35.1 90.6,32.6 89.6,30.2 87.5,28.8 85.9,28.4 83.7,28.3 81.1,30.0 79.9,32.0 79.9,34.3 81.2,36.2ZM98.9,50.6 93.8,45.5 92.9,45.5 92.2,45.9 91.7,46.6 88.4,57.0 88.7,58.8 89.9,59.8 91.4,59.4 98.7,53.0 99.2,52.3 99.3,51.4ZM1.1,56.0 -0.1,57.6 -0.3,59.6 0.3,61.5 1.8,62.9 3.7,63.4 6.1,63.5 8.8,62.6 10.9,60.2 11.1,58.0 10.2,56.0 8.3,54.7 6.4,54.1 4.3,54.0 2.4,54.9ZM89.7,68.5 88.2,68.4 87.2,69.4 86.8,70.2 86.9,71.1 89.9,77.9 90.5,78.6 91.4,78.9 99.4,79.2 100.3,79.0 100.9,78.3 101.1,75.8 100.8,75.0 100.2,74.4ZM88.2,92.0 89.2,93.6 90.9,94.6 92.8,94.7 94.6,94.0 101.0,89.2 102.3,87.6 102.7,85.6 102.1,83.7 100.6,82.2 98.6,81.7 93.1,81.5 90.8,82.1 89.1,83.9 87.7,87.1 87.6,90.2ZM35.1,101.7 35.1,103.3 35.6,103.9 38.6,104.2 43.1,99.4 43.4,98.0 42.2,93.5 40.8,92.9 39.5,93.8ZM62.7,95.3 60.8,95.4 59.1,96.3 58.0,97.8 56.5,101.6 56.2,103.8 56.5,105.6 57.1,107.3 60.0,109.5 62.7,110.1 65.3,109.3 66.6,107.8 69.4,102.6 69.9,100.5 69.3,98.4 67.7,96.6 66.1,95.9ZM84.7,107.9 85.0,109.8 86.1,111.3 87.8,112.1 92.6,113.3 95.3,113.1 97.3,111.4 97.8,110.4 98.4,107.8 97.2,105.4 92.6,100.6 90.9,99.5 88.8,99.4 86.9,100.3 85.2,102.2 84.8,103.9ZM96.9,3.3 99.6,5.6 101.5,5.9 103.2,5.4 106.1,3.7 107.8,2.0 108.2,-0.4 107.9,-2.9 107.1,-4.9 105.4,-6.3 103.2,-6.6 101.2,-5.8 97.4,-2.9 96.0,-1.1 95.8,1.3ZM104.3,14.7 102.2,14.1 100.1,14.7 98.3,16.6 97.7,19.2 97.9,20.6 98.7,22.7 100.5,24.1 103.5,25.3 105.9,25.5 108.1,24.3 109.2,22.0 109.4,20.8 109.0,18.4 107.4,16.5ZM93.2,34.4 93.9,36.4 95.3,37.8 97.3,38.3 99.3,37.9 103.8,35.6 105.5,34.0 106.1,31.7 105.3,29.5 103.5,28.0 99.6,26.4 97.3,26.2 95.3,27.1 93.3,29.4 93.0,31.3ZM101.8,50.1 104.0,51.4 106.4,51.4 108.5,50.2 109.5,48.0 110.3,42.6 110.1,40.4 108.7,38.6 106.6,37.8 104.3,38.2 100.1,40.3 98.6,41.5 97.8,43.3 97.9,45.3 98.9,46.9ZM96.3,65.7 95.5,65.9 94.8,66.5 94.6,67.4 94.8,68.2 95.4,68.8 100.0,71.4 100.9,71.6 101.8,71.3 103.3,68.2 103.1,66.7 101.8,65.9ZM107.9,95.1 107.1,93.1 105.4,91.7 103.2,91.4 101.2,92.2 97.4,95.1 96.0,96.9 95.8,99.3 96.9,101.3 99.6,103.6 101.5,103.9 103.2,103.4 106.1,101.7 107.8,100.0 108.2,97.6ZM99.1,56.0 97.9,57.6 97.7,59.6 98.3,61.5 99.8,62.9 101.7,63.4 104.1,63.5 106.8,62.6 108.9,60.2 109.1,58.0 108.2,56.0 106.3,54.7 104.4,54.1 102.3,54.0 100.4,54.9Z" fill="#f7a63e" fill-opacity="0.6"/></pattern>
</defs>
<!-- TOP SURFACE -->
<g id="topsurface">
<path id="topshape" d="M0,255 L125,255 C150,254 175,246 200,224 L204,224 L212.5,231 L260,231 L266,224 L271,224 C290,242 310,253 350,255 L1390,255 L1660,506 L1660,640 L0,640 Z" fill="url(#gTopBase)"/>
<path d="M0,255 L125,255 C150,254 175,246 200,224 L204,224 L212.5,231 L260,231 L266,224 L271,224 C290,242 310,253 350,255 L1390,255 L1660,506 L1660,640 L0,640 Z" fill="url(#gHi1)"/>
<path d="M0,255 L1390,255 L1660,506 L1660,640 L0,640 Z" fill="url(#gHi2)"/>
<path d="M0,255 L1390,255 L1660,506 L1660,640 L0,640 Z" fill="url(#gDk1)"/>
<path d="M0,255 L1390,255 L1660,506 L1660,640 L0,640 Z" fill="url(#gDk2)"/>
<path d="M900,255 L1390,255 L1660,506 L1660,640 L900,640 Z" fill="url(#gRightEdge)"/>
<path d="M0,255 L125,255 C150,254 175,246 200,224 L204,224 L212.5,231 L480,485.6 L480,640 L0,640 Z" fill="url(#gLBlock)"/>
<path d="M0,255 L125,255 C150,254 175,246 200,224 L204,224 L212.5,231 L480,485.6 L480,640 L0,640 Z" fill="url(#gLBhi)"/>
<path d="M0,255 L1390,255 L1660,506 L1660,640 L0,640 Z" fill="url(#gDk1)"/>
</g>
<!-- wrinkles -->
<g fill="#3a3330">
<path d="M185,303 Q232,301 253,274 Q238,292 185,303Z" fill="#575048"/>
<path d="M190,308.5 Q244,305 261,278 Q248,298 190,308.5Z" fill="#575048"/>
<path d="M170,340 Q245,350 292.5,310 Q245,337 170,340Z"/>
<path d="M255,366 Q300,365 322.5,337.5 Q306,355 255,366Z" fill="#575048"/>
<path d="M212,372.5 Q290,374 328,343 Q296,363 212,372.5Z" fill="#575048"/>
<path d="M237.5,402.5 Q310,414 357.5,372.5 Q310,400 237.5,402.5Z"/>
<path d="M342.5,453 Q385,459 412.5,425 Q385,447 342.5,453Z"/>
<path d="M322.5,275 Q365,306 447.5,303 Q365,295 322.5,275Z"/>
<path d="M397.5,342.5 Q440,377 520,373 Q440,364 397.5,342.5Z"/>
<path d="M400,340 Q425,354 447,355 Q425,348 400,340Z" fill="#625a50"/>
<path d="M437.5,385 Q480,401 545,398 Q480,393 437.5,385Z" fill="#544d46"/>
<path d="M472.5,412.5 Q515,447 597,442.5 Q515,434 472.5,412.5Z"/>
</g>
<!-- dome around stock -->
<path d="M176,452 C200,446 235,448 262,460 C290,473 303,490 311,510 L287,496 L250,490 L222,488 C210,470 195,458 176,452Z" fill="#4b3e3a"/>
<!-- fault -->
<path d="M212.5,231 L260,231 L527.5,485.6 L480,485.6 Z" fill="#4b3e3a"/>
<path d="M260,231 L266,224 L271,224 L542.5,477.5 L530,485.6 Z" fill="#8d7d72"/>
<!-- mountains -->
<g id="mtnLeft">
<path d="M110,235 L142.5,296 L102.5,327.5 L75,310 L46,308.75 L67.5,280 L75,272.5 Z" fill="#3f3735"/>
<path d="M67.5,280 L46,308.75 L75,310 Z" fill="#3c3533"/>
<path d="M110,235 L75,272.5 L75,310 L82.5,315 L100,282.5 Z" fill="url(#gMtnL)"/>
<path d="M110,235 L122.5,255 L117.5,305 L102.5,327.5 L100,282.5 Z" fill="url(#gMtn)"/>
<path d="M122.5,255 L142.5,296 L102.5,327.5 L117.5,305 Z" fill="#4a4240"/>
<path d="M100,282.5 L82.5,315 L102.5,327.5 Z" fill="#453c3a"/>
</g>
<g id="mtnA">
<path d="M1115,228 L1147,254.5 L1159.7,278.75 L1170.6,282 L1222,327 L1172,325.6 L1155,322.5 L1125.3,344.4 L1097,322.5 L1055,312 Z" fill="url(#gMtnD)"/>
<path d="M1115,228 L1055,312 L1097,322.5 L1106,270 Z" fill="url(#gMtnL)"/>
<path d="M1115,228 L1106,270 L1097,322.5 L1125.3,344.4 L1127,283 L1123.75,272.5 Z" fill="url(#gMtn)"/>
<path d="M1115,228 L1147,254.5 L1125,275 Z" fill="#777"/>
<path d="M1170.6,282 L1222,327 L1173.75,325.6 Z" fill="url(#gMtn)"/>
</g>
<g id="mtnB">
<path d="M1322,224 L1355,286.6 L1314,315.5 L1292.5,302 L1258,297.5 L1295.6,246.7 Z" fill="url(#gMtnD)"/>
<path d="M1322,224 L1355,286.6 L1314,315.5 L1316,291 L1311,265 L1297,247 Z" fill="url(#gMtn)"/>
<path d="M1295.6,246.7 L1258,297.5 L1292.5,302 L1288,262 Z" fill="url(#gMtnL)" opacity="0.8"/>
</g>
<!-- SMOKE -->
<g id="smoke">
<g fill="#cbc6c0">
<rect x="812" y="24" width="80" height="42" rx="17"/>
<rect x="897" y="30.5" width="39" height="30" rx="15"/>
<rect x="917.5" y="56" width="43" height="27.5" rx="13.5"/>
<rect x="711" y="92" width="82" height="28" rx="14" transform="rotate(-11 752 106)"/>
<rect x="980" y="95.5" width="35" height="28" rx="14"/>
<path d="M919,108 C928,128 945,132 968,138" stroke="#cbc6c0" stroke-width="17" stroke-linecap="round" fill="none"/>
<rect x="795" y="111.5" width="20" height="17" rx="8"/>
<rect x="832" y="123.5" width="17" height="31" rx="8.5"/>
</g>
<rect x="731" y="51" width="94" height="31" rx="15.5" fill="#cdcdcd" transform="rotate(-8 778 66.5)"/>
<g fill="#e6e6e6">
<rect x="835" y="39" width="69" height="66" rx="18"/>
<rect x="768" y="75" width="80" height="27" rx="13.5" transform="rotate(-4 808 88.5)"/>
<rect x="886" y="64" width="70" height="40" rx="18" transform="rotate(14 921 84)"/>
<rect x="932" y="104" width="82" height="33" rx="16" transform="rotate(7 974 121)"/>
<rect x="755" y="130" width="82" height="30" rx="15" transform="rotate(-5 796 145)"/>
<rect x="832" y="95" width="99" height="62" rx="18"/>
<rect x="833.5" y="120" width="48" height="75" rx="16"/>
<rect x="847" y="170" width="34" height="39" rx="16"/>
</g>
<rect x="715" y="109" width="35" height="31" rx="15" fill="#e2e2e2"/>
<rect x="856.5" y="77" width="35" height="28" rx="13" fill="#d9d9d9"/>
<rect x="867" y="140.5" width="47.5" height="29" rx="13" fill="#cdcdcd"/>
<ellipse cx="925.5" cy="106" rx="7.5" ry="7.5" fill="#fefefe"/>
<g fill="#1a1718">
<circle cx="810.7" cy="147" r="2.3"/><circle cx="781.7" cy="180" r="2.3"/><circle cx="804.3" cy="192.9" r="2.3"/>
<ellipse cx="822.4" cy="208.6" rx="6" ry="7.5"/><ellipse cx="890.6" cy="180" rx="4.6" ry="5.5"/><ellipse cx="928" cy="183.4" rx="6" ry="7.6"/>
<circle cx="904.6" cy="204.5" r="2.3"/><circle cx="918" cy="226.6" r="2.3"/>
</g>
</g>
<!-- VOLCANO -->
<g id="volcano">
<!-- outer cone left -->
<path d="M826,232.5 L811,250 L751,320 L731,347.5 C715,362 700,372 688.5,380 C670,392 650,398 626,407.5 C621,415 621,428 626,445 C630,455 636,462 641,470 L668.5,508.75 L1061,508.75 L1011,425 L1001,362.5 L998.5,340 L988.5,332 L950,330 L898.5,240 L883.5,225 L872.25,213.75 L858.5,222.5 L838.5,227.5 Z" fill="#4b4644"/>
<!-- right outer dark -->
<path d="M896,242.5 L950,330 L988.5,332 L998.5,340 L1001,362.5 L1011,425 L1061,508.75 L896,508.75 Z" fill="#2a2423"/>
<path d="M960,337 L990,338 L994,344 L996,364 L1004,414 Z" fill="#3a3433"/>
<!-- cross section stripes -->
<g clip-path="url(#cVolc)">
<path d="M668.5,508.75 L864.75,187 L1061,508.75 Z" fill="#262120"/>
<path d="M694.5,508.75 L864.75,229.6 L1035,508.75 Z" fill="#5a5453"/>
<path d="M720.5,508.75 L864.75,272.2 L1009,508.75 Z" fill="#262120"/>
<path d="M746.5,508.75 L864.75,314.8 L983,508.75 Z" fill="#5a5453"/>
<path d="M772.5,508.75 L864.75,357.4 L957,508.75 Z" fill="#262120"/>
<path d="M798.5,508.75 L864.75,400 L931,508.75 Z" fill="#5a5453"/>
<path d="M824.5,508.75 L864.75,442.6 L905,508.75 Z" fill="#262120"/>
</g>
<!-- crater cap -->
<path d="M826,232.5 L838.5,227.5 L858.5,222.5 L872.25,213.75 L883.5,225 L898.5,240 L896,243 L833,243 Z" fill="#2e2826"/>
<path d="M826,232.5 L838.5,227.5 L858.5,222.5 L872.25,213.75 L868,230 L850,238 L833,243 Z" fill="#3f3937"/>
<!-- lava right edge line -->
<path d="M896,242 L966,329" stroke="#ee8534" stroke-width="4.5" fill="none"/>
<path d="M950,330 L967.5,330 L958,318 Z" fill="#f5a83a"/>
<!-- lava blobs left -->
<path d="M831,242 C822,246 812,254 803,264 C790,280 778,294 768,306 C758,318 750,326 749,338 C748,348 752,354 759,354.5 L771,335 L783.5,315 L801,287.5 L826,247.5 Z" fill="url(#gLava1)"/>
<path d="M831,241 L826,247.5 L801,287.5 L783.5,315 L760,352" stroke="#f6a83a" stroke-width="2.5" fill="none"/>
<path d="M721,385 L712,397.5 L701,412.5 Q695,421 688.5,422.5 L671,425 Q660,427 656,430 L642,441 Q644,449 647,450 L661,446 Q668,447 671,452.5 L686,477.5 L694.75,471 L703.5,450 L711,420 L718.5,395 Z" fill="url(#gLava2)"/>
<!-- branches -->
<path d="M719.75,388.75 C736,402.5 750,411 766,417.5 C780,424 790,430 801,435 C815,441 822,445 831,450 C842,456 846,459 848.5,462.5 C854,468 856,472 857.25,477.5 C860,487 862,493 864,506" stroke="url(#gBrL)" stroke-width="10" fill="none" stroke-linecap="round"/>
<path d="M994.75,336.25 C988,344 982,349 976,352.5 C962,361 950,367 938.5,372.5 C925,379 912,385 901,390 C893,394 886,398 881,402.5 C876,408 874.5,412 873.5,417.5 C872.5,425 870,432 868,446" stroke="url(#gBrR)" stroke-width="9" fill="none" stroke-linecap="round"/>
<path d="M861,283 L871,283 L871.5,512 L860,512 Z" fill="#f5ab3b"/>
<!-- funnel -->
<path d="M833.5,241 Q851,236 866,236.5 Q884,237 896,242.5 L871.5,285 L860.5,285 Z" fill="url(#gFunnel)"/>
<path d="M833.5,241.5 Q851,236.5 866,237 Q884,237.5 896,243" stroke="#f6a93b" stroke-width="3" fill="none"/>
</g>
<!-- FRONT FACE -->
<g id="front" clip-path="url(#cFront)">
<rect x="222" y="380" width="1438" height="1016" fill="#6f6359"/>
<!-- L2 dark brown below light-brown -->
<path d="M300,550 L311,550 C323.2,550.0 366.0,550.5 384,550 C402.0,549.5 408.8,548.4 419,546.7 C429.2,545.0 436.3,543.8 445,540 C453.7,536.2 463.8,529.0 471,524 C478.2,519.0 483.2,515.3 488,510 C492.8,504.7 498.0,495.0 500,492 L512,492 L512,492 C513.5,495.6 516.3,507.2 521,513.75 C525.7,520.2 532.5,526.1 540,531 C547.5,535.9 554.3,540.0 566,543 C577.7,546.0 591.0,547.8 610,549 C629.0,550.2 668.3,549.8 680,550 L1040,549.5 L1040,549.5 C1051.8,549.1 1091.3,549.0 1111,547 C1130.7,545.0 1142.3,543.6 1158,537.7 C1173.7,531.8 1189.2,521.5 1205,511.7 C1220.8,501.9 1236.8,488.5 1252.6,478.7 C1268.4,468.9 1284.1,458.5 1299.8,452.7 C1315.5,446.9 1331.3,446.2 1347,444 C1362.7,441.8 1378.2,439.3 1394,439.3 C1409.8,439.3 1425.7,440.9 1441.5,444 C1457.3,447.1 1473.0,452.1 1488.7,458 C1504.5,463.9 1520.3,471.6 1536,479.5 C1551.7,487.4 1567.2,496.1 1583,505.5 C1598.8,514.9 1617.7,528.1 1630.5,536 C1643.3,543.9 1655.1,550.2 1660,553 L1660,1396 L300,1396 Z" fill="#483b37"/>
<!-- L3 grey -->
<path d="M222,631.4 L1040,631 L1040,631 C1055.8,630.4 1110.9,630.0 1134.5,627.5 C1158.1,625.0 1166.0,622.5 1181.7,615.7 C1197.5,609.0 1213.3,597.6 1229,587 C1244.7,576.4 1260.3,561.4 1276,552 C1291.7,542.6 1307.6,535.9 1323.4,530.7 C1339.2,525.5 1354.9,522.2 1370.7,521 C1386.5,519.8 1402.3,520.8 1418,523.6 C1433.7,526.4 1449.3,531.5 1465,537.7 C1480.7,543.9 1496.6,552.8 1512.4,561 C1528.2,569.2 1543.9,578.7 1559.6,587 C1575.3,595.3 1590.1,603.5 1606.8,611 C1623.5,618.5 1651.1,628.5 1660,632 L1660,712 L222,712 Z" fill="#686868"/>
<rect x="222" y="712" width="1438" height="40" fill="#4d5050"/>
<rect x="222" y="752" width="1438" height="95" fill="#483b37"/>
<rect x="222" y="847" width="1438" height="82" fill="#392e2b"/>
<rect x="222" y="929" width="1438" height="39" fill="#4e5152"/>
<rect x="222" y="968" width="1438" height="97" fill="#483b37"/>
<rect x="222" y="1065" width="1438" height="58" fill="#808080"/>
<rect x="222" y="1123" width="1438" height="273" fill="#483b37"/>

<!-- BATHOLITH front -->
<defs><path id="bathF" d="M222,480 L222,488 L250,490 L287,496 L311,507 L312,600 C314,680 318,740 325,800 C330,830 334,850 340,875 C348,905 355,925 365,950 C376,977 386,1000 400,1025 C414,1048 426,1067 440,1085 C450,1097 460,1104 470,1105 C480,1105 486,1100 488,1090 L488,1131 L521.7,1131.7 C530,1148 545,1158 570,1165 C600,1174 620,1177 650,1180 C680,1184 700,1185 730,1187 C760,1190 780,1192 800,1193 C822,1194 836,1188 841,1168 L846.7,1150 L882.8,1150 L885,1195 C886,1207 890,1215 895,1222 C905,1235 920,1245 935,1255 C946,1263 954,1272 960,1285 C968,1297 974,1307 980,1320 C988,1336 994,1349 1000,1365 L1015,1396 L222,1396 Z"/></defs>
<use href="#bathF" fill="url(#gBath)"/>
<g mask="url(#mBathTex)"><use href="#bathF" fill="url(#pCellF)"/></g>
<!-- left dike -->
<path d="M479.6,485.6 L530,485.6 C524,500 518,515 515,530 C513,540 512.6,545 512.6,550 L514,700 L516,900 L518,1000 L521.7,1118 L522,1140 L486,1140 L488,1000 L492,800 L497,650 L499,550 C498,535 494,518 488,503 Z" fill="url(#gFdike)"/>
<path d="M479.6,485.6 L530,485.6 C524,500 518,515 515,530 C513,540 512.6,545 512.6,550 L514,700 L516,900 L518,1000 L521.7,1118 L522,1140 L486,1140 L488,1000 L492,800 L497,650 L499,550 C498,535 494,518 488,503 Z" fill="url(#pCellD)"/>
<!-- sill from left dike -->
<path d="M513,824.4 L560,825 L610,828.6 L640,833 L682,846.7 L640,850 L560,851 L520,851 Q515,852 514,858 L513,824.4 Z" fill="#ee8231"/>
<path d="M513,824.4 L560,825 L610,828.6 L640,833 L682,846.7 L640,850 L560,851 L520,851 Q515,852 514,858 L513,824.4 Z" fill="url(#pCellD)"/>
<!-- xenoliths -->
<g fill="#4d4849">
<path d="M584,1188 Q586,1182 594,1184 L610,1190 Q616,1194 614,1200 Q612,1208 600,1209 L590,1209 Q583,1207 583,1198 Z"/>
<path d="M626,1206 Q640,1196 660,1198 Q680,1200 685,1212 Q686,1226 676,1238 Q660,1242 645,1236 Q632,1222 626,1206 Z"/>
<path d="M697,1214 Q705,1200 740,1198 Q775,1198 783,1212 Q786,1228 770,1233 L715,1234 Q698,1230 697,1214 Z"/>
<path d="M626,1258 Q630,1250 642,1252 Q652,1256 650,1268 Q646,1277 634,1275 Q625,1270 626,1258 Z"/>
<path d="M686,1282 Q692,1274 704,1278 Q712,1284 708,1292 Q700,1298 690,1294 Q684,1290 686,1282 Z"/>
<path d="M920,1268 Q930,1262 940,1272 Q946,1284 938,1290 Q926,1290 920,1280 Z"/>
<path d="M945,1296 Q955,1290 962,1300 Q968,1312 960,1318 Q950,1318 945,1308 Z"/>
</g>
<!-- PIPE -->
<path id="pipe" d="M860,284 L871.5,284 L872.3,600 L872.5,840 L878.6,868 L881.4,1000 L882.8,1160 L846.7,1160 L846.7,1000 L849.4,868 L852,860 L855.5,600 Z" fill="url(#gPipe)"/>
<!-- branch dike -->
<path d="M690,624.4 C694,640 696,650 700,660 C706,675 712,686 719,697 C730,715 745,728 761,744 C778,762 790,778 803,794 C815,810 824,824 833,838 C842,852 850,862 858,876" stroke="url(#gPipe)" stroke-width="19" fill="none" stroke-linecap="round"/>
<!-- bottom middle sill -->
<path d="M571.7,1064.4 L643.9,1052.5 L649.4,1040 L657.8,1017.8 Q660,1011 663.3,1010.8 L757.8,1003.9 L768.9,1009.4 L782.8,1021.9 L799.4,1022.8 L809.2,1038.6 L841.1,1039.4 Q846,1039 846.7,1031.7 L881.4,1031.7 Q882,1038 885.6,1038.6 L921.7,1039.4 L935.6,1024.7 L963.3,1024.7 L977.2,1034.4 L988.3,1035.8 L1007.8,1024.7 L1021.7,1022.8 L1087,1024.7 L1091,1028.9 L1102,1051 L1159.4,1064.4 L1159.4,1065.5 L571.7,1065.5 Z" fill="#ee8632"/>
<path d="M846.7,1060 L882.8,1060 L882.8,1075 Q883,1066 890,1065.5 L840,1065.5 Q846,1066 846.7,1075 Z" fill="#ee8632"/>
<!-- LACCOLITH -->
<defs><path id="lacc" d="M1179,712 Q1177,700 1179,692 Q1182,680 1184.4,672 Q1190,655 1195.6,644 Q1205,630 1220.6,622 Q1235,616 1251,611 Q1268,606 1276,598 Q1282,590 1290,586 Q1300,581 1306.7,580 L1340,578 Q1360,580 1381.7,588 Q1392,590 1401,585 Q1415,580 1429,578 Q1440,580 1448,583 L1468,592 Q1474,598 1479,603 Q1485,604 1490,599 Q1497,592 1498,583 Q1499,575 1495.6,565 Q1485,555 1473,546 Q1460,536 1443,528 Q1455,526 1465,525 Q1480,526 1490,530 Q1505,538 1517.8,548 Q1535,560 1554,575 Q1575,592 1595.6,607 Q1610,618 1626,626 Q1605,622 1590,616 Q1570,608 1554,600 Q1540,592 1530,588 Q1522,588 1518,594 Q1513,600 1512,605 Q1511,612 1515,619 Q1525,630 1534.4,636 Q1548,648 1556.7,660 Q1566,673 1570.6,685 Q1574,697 1573,705 Q1572,710 1568,712 Z"/></defs>
<use href="#lacc" fill="url(#gLacc)"/>
<use href="#lacc" fill="url(#pCellL)"/>
<!-- trunk -->
<defs><path id="trunk" d="M1330,711 L1420,711 Q1395,716 1392,740 L1391,810 Q1392,818 1398,819 L1406,820 Q1410,815 1412,813 L1440,810.5 L1454,812 L1462,823 L1523,822 L1534,830 L1540,838 L1562,847 L1562,849.4 L1410,849.4 Q1393,851 1391,870 L1391.5,945 Q1392,956 1398,956 L1409,953 L1426,945 L1457,946.4 L1473,956 L1484,956 L1498,950.5 L1520.5,952 L1531.7,961.7 L1548,967.5 L1548,969 L1484,978 L1429,982.5 L1401,984 Q1393,986 1393,992 L1394,1000 Q1396,1025 1401,1042 Q1408,1062 1411,1084 Q1413,1100 1412,1112 Q1410,1135 1404,1160 Q1400,1180 1397,1195 Q1396,1210 1402,1225 Q1415,1245 1432,1260 Q1455,1278 1472,1295 Q1490,1320 1497,1345 Q1501,1365 1502,1396 L1252,1396 Q1256,1345 1267,1320 Q1280,1300 1302,1285 Q1325,1268 1342,1250 Q1356,1232 1362,1210 Q1362,1190 1357,1170 Q1345,1135 1341,1112 Q1341,1098 1343,1084 Q1346,1062 1351,1042 Q1356,1020 1359,986 Q1356,982 1350,980 L1337,978 L1323,970 Q1312,958 1306.7,951 Q1296,940 1284,939.5 L1248,940 L1207,942 L1151,939.5 L1080,929 L1080,927.5 L1156.7,917.2 L1170.6,910.3 L1217.8,910.3 L1231.7,924 L1240,924 L1251,918.6 L1276,920 L1284.4,928.3 L1306.7,931 Q1320,935 1323,942 Q1335,955 1340,956 L1355,958 Q1361,957 1361.5,945 L1362,870 Q1361,852 1345,849.4 L1190,849.4 L1190,847 L1234.4,835.6 L1262,835.6 L1279,828.6 L1304,823 L1345.6,823 L1356.7,820.3 Q1361,815 1362,808 L1362,740 Q1360,716 1330,711 Z"/></defs>
<use href="#trunk" fill="url(#gTrunk)"/>
<use href="#trunk" fill="url(#pCellT)"/>
</g>
<!-- LEFT FACE -->
<g id="left" clip-path="url(#cLeft)">
<g transform="matrix(1 0.935 0 1 0 0)">
<rect x="0" y="250" width="222" height="90" fill="url(#gLB)"/>
<rect x="0" y="340" width="222" height="83.4" fill="#3c312d"/>
<rect x="0" y="423.4" width="222" height="81" fill="#5a5a5a"/>
<rect x="0" y="504.4" width="222" height="40" fill="#464849"/>
<rect x="0" y="544.4" width="222" height="95" fill="#3b312e"/>
<rect x="0" y="639.4" width="222" height="82" fill="#2b2320"/>
<rect x="0" y="721.4" width="222" height="39" fill="#474b4c"/>
<rect x="0" y="760.4" width="222" height="97" fill="#352c29"/>
<rect x="0" y="857.4" width="222" height="58" fill="#505455"/>
<rect x="0" y="915.4" width="222" height="400" fill="#3a2f2c"/>
</g>
<defs><path id="bathL" d="M164,455 Q200,458 222,490 L222,1396 L30,1212 L30,1150 Q31,1120 35,1100 Q40,1075 50,1065 Q60,1054 70,1055 Q85,1062 100,1070 Q112,1078 120,1075 Q130,1068 135,1050 Q140,1025 142.5,1000 L139,989 L51.4,902.8 L148,970.8 L150,900 L155,830 L158,808 L157,791.7 L151.4,777.8 L12.5,648.6 L80.5,690 L97,693 L107,689.4 L114,691.7 L136,711 L147,733 L160,762.5 L164,765 L164,592 L162.5,590 L155,575 L140,557.5 L79,495 L162.5,555 L164,556 Z"/></defs>
<use href="#bathL" fill="url(#gLeftBath)"/>
<use href="#bathL" fill="url(#pCellB)"/>
<use href="#bathL" fill="url(#gColSoft)"/>
</g>
<!-- LABELS -->
<g id="leaders" class="ld">
<path d="M342.5,578.75 L276,605"/>
<path d="M449,775 L506,786"/>
<path d="M659.7,677.8 L716.7,688.3"/>
<path d="M644.4,809 L580,834"/>
<path d="M929,594 L865,620"/>
<path d="M1534.4,543.9 L1498,557.8"/>
<path d="M1498,796.7 L1434,821.7"/>
<path d="M1116.4,1003.3 L1052.5,1028.9"/>
<path d="M1305,1178 L1362,1188"/>
<path d="M657.5,1315 L695,1285"/>
<path d="M715,286 L781,313.5"/>
<path d="M661.5,341.5 L726.5,367.5"/>
</g>
<g class="lab">
<text x="615.5" y="295" textLength="85" lengthAdjust="spacingAndGlyphs">Lava</text>
<text x="501.5" y="350" textLength="145" lengthAdjust="spacingAndGlyphs">Volcano</text>
<text x="358" y="591" textLength="103" lengthAdjust="spacingAndGlyphs">Stock</text>
<text x="355" y="786" textLength="83" lengthAdjust="spacingAndGlyphs">Dike</text>
<text x="566" y="688.5" textLength="83" lengthAdjust="spacingAndGlyphs">Dike</text>
<text x="658" y="820" textLength="60" lengthAdjust="spacingAndGlyphs">Sill</text>
<text x="939" y="606.5" textLength="81" lengthAdjust="spacingAndGlyphs">Pipe</text>
<text x="1290" y="673" textLength="169" lengthAdjust="spacingAndGlyphs">Laccolith</text>
<text x="1545" y="549.5" textLength="60" lengthAdjust="spacingAndGlyphs">Sill</text>
<text x="1513" y="808" textLength="60" lengthAdjust="spacingAndGlyphs">Sill</text>
<text x="1131" y="1014.5" textLength="60" lengthAdjust="spacingAndGlyphs">Sill</text>
<text x="1212" y="1188" textLength="83" lengthAdjust="spacingAndGlyphs">Dike</text>
<text x="467.5" y="1333" textLength="175" lengthAdjust="spacingAndGlyphs">Xenoliths</text>
<text x="267.5" y="1252" textLength="234.5" lengthAdjust="spacingAndGlyphs" style="font-size:48px;fill:#fbd870;stroke:#fbd870;stroke-width:1.8px">Batholith</text>
</g>
<!-- BRACES -->
<g fill="none" stroke="#174a63" stroke-width="4.8" stroke-linecap="round">
<path d="M1684,237 C1700,237 1710,245 1710,262 L1710,341 C1710,355 1718,362 1737,364 C1718,366 1710,373 1710,387 L1710,466 C1710,483 1700,492 1684,492"/>
<path d="M1684,508.5 C1700,508.5 1710,517 1710,534 L1710,928 C1710,942 1718,950 1737,952.5 C1718,955 1710,962 1710,976 L1710,1371 C1710,1388 1700,1396.5 1684,1396.5"/>
</g>
<!-- BIG TEXT -->
<g class="big" stroke="#000" stroke-width="1.6" stroke-linejoin="round">
<text x="1824" y="345" font-size="82" textLength="377" lengthAdjust="spacing">extrusive</text>
<text x="2227" y="345" font-size="82" letter-spacing="3">or</text>
<text x="1775" y="434" font-size="82" textLength="340" lengthAdjust="spacing" fill="#e712d9" stroke="#e712d9">volcanic</text>
<text x="2142" y="434" font-size="82" letter-spacing="3">rock</text>
<text x="1827" y="516" font-size="65" textLength="482" lengthAdjust="spacing">(cool quickly)</text>
<text x="1832" y="939" font-size="82" textLength="358" lengthAdjust="spacing">intrusive</text>
<text x="2217" y="939" font-size="82" letter-spacing="3">or</text>
<text x="1772" y="1027.5" font-size="82" textLength="342" lengthAdjust="spacing" fill="#e712d9" stroke="#e712d9">plutonic</text>
<text x="2140" y="1027.5" font-size="82" letter-spacing="3">rock</text>
<text x="1843" y="1115" font-size="65" textLength="452" lengthAdjust="spacing">(cool slowly)</text>
</g>
<!-- SUBTITLES -->
<g id="subs">
<g fill="#000" fill-opacity="0.76">
<rect x="619" y="1113" width="1068" height="112.5"/>
<rect x="637" y="1225.5" width="1031" height="59"/>
<rect x="901.5" y="1284.5" width="502.5" height="62.5"/>
<rect x="1045.5" y="1347" width="215.5" height="64"/>
</g>
<g class="sub" font-size="46.5">
<text x="650" y="1157" textLength="992" lengthAdjust="spacingAndGlyphs">plutonic, and extrusive rocks may be described</text>
<text x="1122" y="1214.5" textLength="49" lengthAdjust="spacingAndGlyphs">as</text>
<text x="650" y="1270" textLength="982" lengthAdjust="spacingAndGlyphs">volcanic. It is usually pretty easy to distinguish</text>
<text x="913" y="1335" font-size="48">深成岩，喷出岩可称为</text>
<text x="1057" y="1399" font-size="48">火山岩。</text>
</g>
</g>
</svg>
</body>
</html>
